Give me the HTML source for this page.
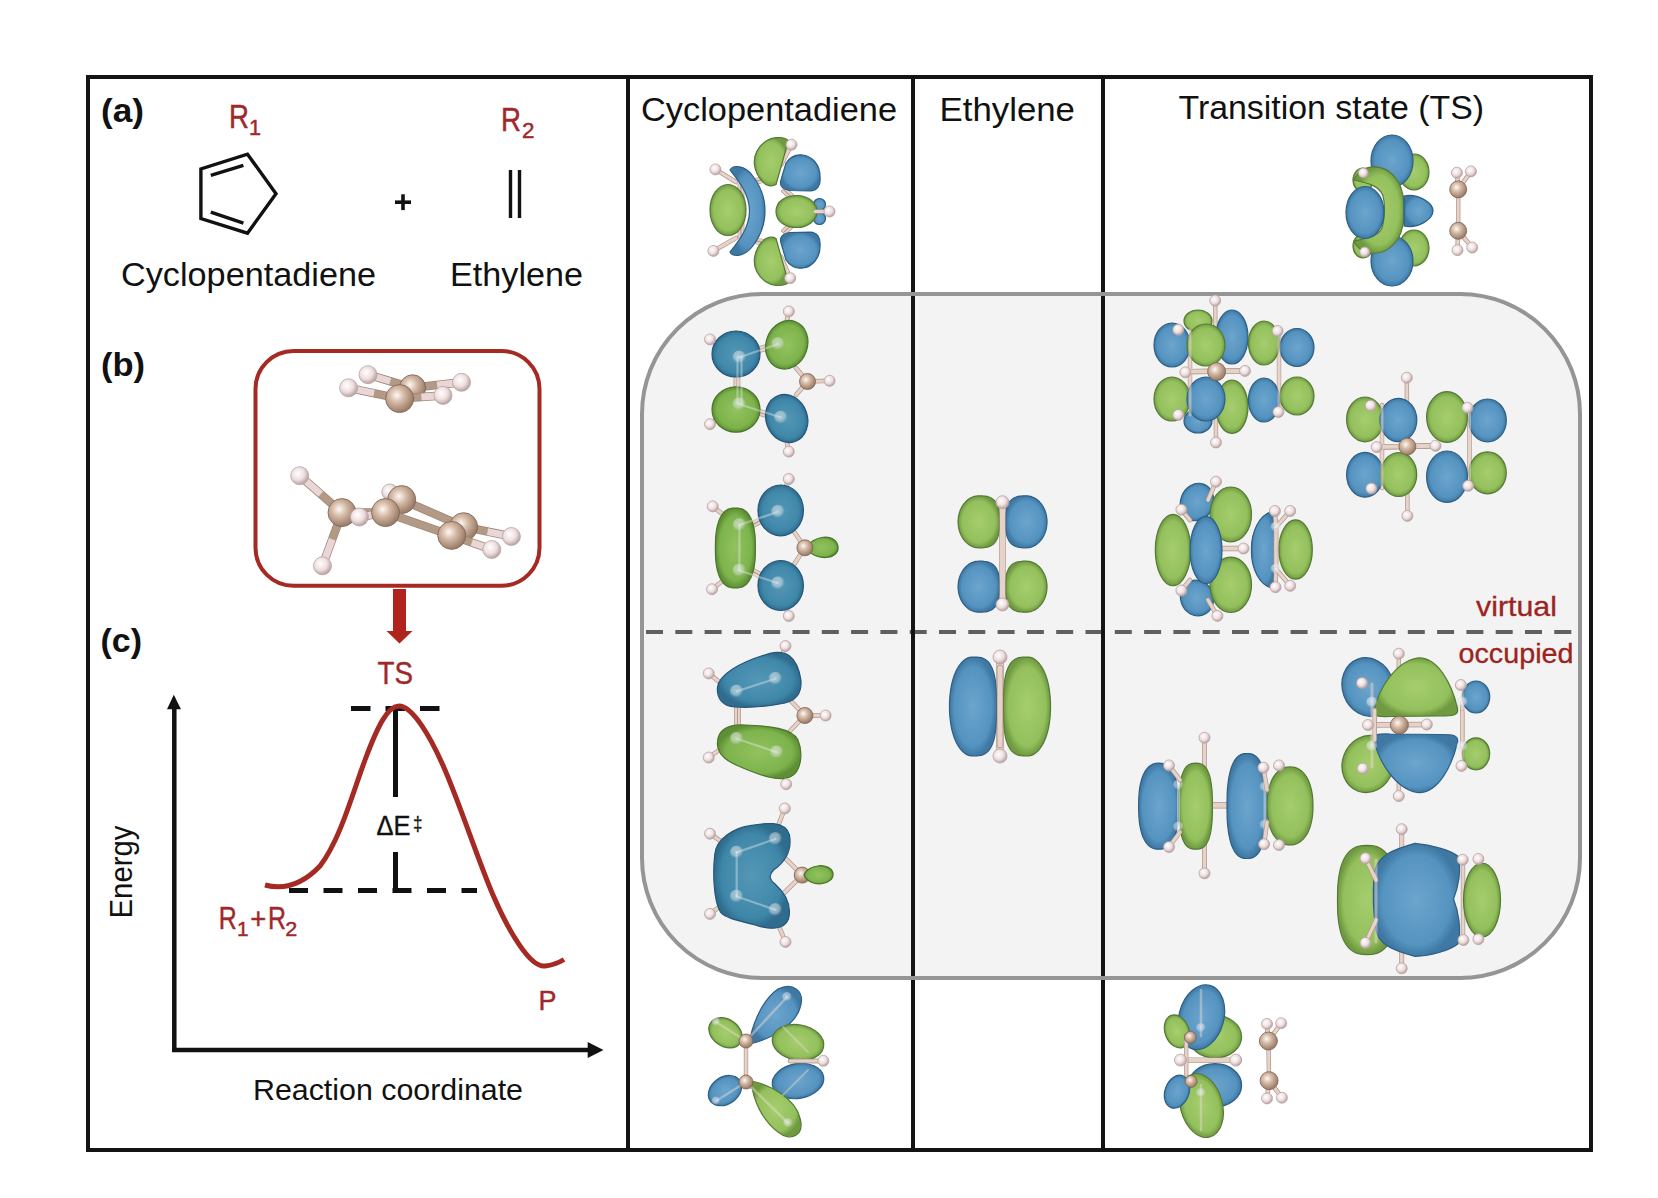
<!DOCTYPE html>
<html><head><meta charset="utf-8">
<style>
html,body{margin:0;padding:0;background:#fff;width:1658px;height:1198px;overflow:hidden}
svg{display:block}
text{font-family:"Liberation Sans",sans-serif}
</style></head>
<body>
<svg width="1658" height="1198" viewBox="0 0 1658 1198">
<defs>
<radialGradient id="gB" cx="50%" cy="50%" r="50%">
<stop offset="0" stop-color="#6ca5cd"/><stop offset="0.8" stop-color="#5593c0"/><stop offset="1" stop-color="#3f78a3"/>
</radialGradient>
<radialGradient id="gG" cx="50%" cy="50%" r="50%">
<stop offset="0" stop-color="#a6cd6e"/><stop offset="0.8" stop-color="#93c05c"/><stop offset="1" stop-color="#6f9a42"/>
</radialGradient>
<radialGradient id="gBt" cx="50%" cy="50%" r="50%">
<stop offset="0" stop-color="#5497b6"/><stop offset="0.8" stop-color="#3f87a9"/><stop offset="1" stop-color="#2f6c8e"/>
</radialGradient>
<radialGradient id="gGd" cx="50%" cy="50%" r="50%">
<stop offset="0" stop-color="#92c25e"/><stop offset="0.8" stop-color="#7db34c"/><stop offset="1" stop-color="#5e8f36"/>
</radialGradient>
<radialGradient id="gGhost" cx="45%" cy="40%" r="55%">
<stop offset="0" stop-color="#ffffff"/><stop offset="0.6" stop-color="#dfe6ea"/><stop offset="1" stop-color="#c0c8cc" stop-opacity="0"/>
</radialGradient>
<radialGradient id="gH" cx="40%" cy="38%" r="60%">
<stop offset="0" stop-color="#ffffff"/><stop offset="0.6" stop-color="#eedede"/><stop offset="1" stop-color="#bca6a6"/>
</radialGradient>
<radialGradient id="gC" cx="40%" cy="38%" r="60%">
<stop offset="0" stop-color="#fff8f2"/><stop offset="0.45" stop-color="#d3b8a4"/><stop offset="1" stop-color="#9c7e6a"/>
</radialGradient>
</defs>
<rect width="1658" height="1198" fill="#fff"/>

<!-- gray rounded region -->
<rect x="642" y="294" width="938" height="684" rx="120" ry="120" fill="#f3f3f3"/>
<!-- dashed divider -->
<line x1="646" y1="632" x2="1582" y2="632" stroke="#5f5f5f" stroke-width="4" stroke-dasharray="17 12.3"/>

<!-- frame -->
<g stroke="#141414" stroke-width="4" fill="none">
<rect x="88" y="77" width="1503" height="1073"/>
<line x1="628" y1="77" x2="628" y2="1150"/>
<line x1="913" y1="77" x2="913" y2="1150"/>
<line x1="1103" y1="77" x2="1103" y2="1150"/>
</g>

<!-- headers -->
<g fill="#111">
<text x="641" y="120.5" font-size="34" textLength="256" lengthAdjust="spacingAndGlyphs">Cyclopentadiene</text>
<text x="939.5" y="120.5" font-size="34" textLength="135.5" lengthAdjust="spacingAndGlyphs">Ethylene</text>
<text x="1178.5" y="119" font-size="34" textLength="305.5" lengthAdjust="spacingAndGlyphs">Transition state (TS)</text>
</g>

<!-- panel a -->
<g fill="#111">
<text x="101" y="122" font-size="34" font-weight="bold" textLength="43" lengthAdjust="spacingAndGlyphs">(a)</text>
<text x="101" y="376" font-size="34" font-weight="bold" textLength="44" lengthAdjust="spacingAndGlyphs">(b)</text>
<text x="100.5" y="652" font-size="34" font-weight="bold" textLength="41.5" lengthAdjust="spacingAndGlyphs">(c)</text>
<text x="121" y="286.3" font-size="33" textLength="255" lengthAdjust="spacingAndGlyphs">Cyclopentadiene</text>
<text x="450" y="286.3" font-size="33" textLength="133" lengthAdjust="spacingAndGlyphs">Ethylene</text>
</g>
<g fill="#a0282a" stroke="#a0282a" stroke-width="0.45">
<text x="229" y="127.6" font-size="33" textLength="20" lengthAdjust="spacingAndGlyphs">R</text>
<text x="249" y="134.9" font-size="21.5" textLength="12" lengthAdjust="spacingAndGlyphs">1</text>
<text x="501" y="130.7" font-size="33" textLength="20" lengthAdjust="spacingAndGlyphs">R</text>
<text x="522" y="138.2" font-size="21.5" textLength="12.5" lengthAdjust="spacingAndGlyphs">2</text>
</g>
<g stroke="#111" stroke-width="3.4" fill="none" stroke-linejoin="miter">
<polygon points="247.5,154.2 276,193.7 247.5,233.2 200.9,218.5 200.9,168.9"/>
<line x1="210.8" y1="175.4" x2="243.4" y2="165.3"/>
<line x1="210.8" y1="212.1" x2="243.4" y2="223.1"/>
<line x1="510.5" y1="170" x2="510.5" y2="218"/>
<line x1="519.5" y1="170" x2="519.5" y2="218"/>
<line x1="395" y1="202.2" x2="411" y2="202.2" stroke-width="3.6"/>
<line x1="403" y1="194.3" x2="403" y2="210.1" stroke-width="3.6"/>
</g>

<!-- panel b -->
<rect x="255.5" y="351" width="284" height="234.8" rx="38" ry="38" fill="none" stroke="#a52a23" stroke-width="4"/>
<line x1="412.6" y1="387.8" x2="368" y2="374.7" stroke="#9c8474" stroke-width="8.5"/>
<line x1="412.6" y1="387.8" x2="390.3" y2="381.25" stroke="#b39a86" stroke-width="7"/>
<line x1="390.3" y1="381.25" x2="368" y2="374.7" stroke="#ead6d6" stroke-width="7"/>
<line x1="412.6" y1="387.8" x2="461.5" y2="382.3" stroke="#9c8474" stroke-width="8.5"/>
<line x1="412.6" y1="387.8" x2="437.05" y2="385.05" stroke="#b39a86" stroke-width="7"/>
<line x1="437.05" y1="385.05" x2="461.5" y2="382.3" stroke="#ead6d6" stroke-width="7"/>
<circle cx="412.6" cy="387.8" r="13" fill="url(#gC)" stroke="#7a6050" stroke-width="0.8"/>
<circle cx="368" cy="374.7" r="9" fill="url(#gH)" stroke="#b9a3a3" stroke-width="0.8"/>
<circle cx="461.5" cy="382.3" r="9" fill="url(#gH)" stroke="#b9a3a3" stroke-width="0.8"/>
<line x1="399.6" y1="398.6" x2="348.6" y2="387.8" stroke="#9c8474" stroke-width="8.5"/>
<line x1="399.6" y1="398.6" x2="374.1" y2="393.20000000000005" stroke="#b39a86" stroke-width="7"/>
<line x1="374.1" y1="393.20000000000005" x2="348.6" y2="387.8" stroke="#ead6d6" stroke-width="7"/>
<line x1="399.6" y1="398.6" x2="443" y2="395.4" stroke="#9c8474" stroke-width="8.5"/>
<line x1="399.6" y1="398.6" x2="421.3" y2="397.0" stroke="#b39a86" stroke-width="7"/>
<line x1="421.3" y1="397.0" x2="443" y2="395.4" stroke="#ead6d6" stroke-width="7"/>
<circle cx="348.6" cy="387.8" r="9" fill="url(#gH)" stroke="#b9a3a3" stroke-width="0.8"/>
<circle cx="443" cy="395.4" r="9" fill="url(#gH)" stroke="#b9a3a3" stroke-width="0.8"/>
<circle cx="399.6" cy="398.6" r="14" fill="url(#gC)" stroke="#7a6050" stroke-width="0.8"/>
<circle cx="389.8" cy="492" r="8" fill="url(#gH)" stroke="#b9a3a3" stroke-width="0.8"/>
<line x1="401.7" y1="499.6" x2="463.6" y2="526.7" stroke="#9c8474" stroke-width="8.5"/>
<line x1="401.7" y1="499.6" x2="463.6" y2="526.7" stroke="#b39a86" stroke-width="7"/>
<line x1="463.6" y1="526.7" x2="511.4" y2="536.5" stroke="#9c8474" stroke-width="8.5"/>
<line x1="463.6" y1="526.7" x2="487.5" y2="531.6" stroke="#b39a86" stroke-width="7"/>
<line x1="487.5" y1="531.6" x2="511.4" y2="536.5" stroke="#ead6d6" stroke-width="7"/>
<circle cx="401.7" cy="499.6" r="14" fill="url(#gC)" stroke="#7a6050" stroke-width="0.8"/>
<circle cx="463.6" cy="526.7" r="14" fill="url(#gC)" stroke="#7a6050" stroke-width="0.8"/>
<circle cx="511.4" cy="536.5" r="9" fill="url(#gH)" stroke="#b9a3a3" stroke-width="0.8"/>
<line x1="342" y1="512.6" x2="299.7" y2="475.7" stroke="#9c8474" stroke-width="8.5"/>
<line x1="342" y1="512.6" x2="320.85" y2="494.15" stroke="#b39a86" stroke-width="7"/>
<line x1="320.85" y1="494.15" x2="299.7" y2="475.7" stroke="#ead6d6" stroke-width="7"/>
<line x1="342" y1="512.6" x2="322.5" y2="565.8" stroke="#9c8474" stroke-width="8.5"/>
<line x1="342" y1="512.6" x2="332.25" y2="539.2" stroke="#b39a86" stroke-width="7"/>
<line x1="332.25" y1="539.2" x2="322.5" y2="565.8" stroke="#ead6d6" stroke-width="7"/>
<line x1="342" y1="512.6" x2="385.5" y2="512.6" stroke="#9c8474" stroke-width="8.5"/>
<line x1="342" y1="512.6" x2="385.5" y2="512.6" stroke="#b39a86" stroke-width="7"/>
<line x1="385.5" y1="512.6" x2="451.7" y2="535.4" stroke="#9c8474" stroke-width="8.5"/>
<line x1="385.5" y1="512.6" x2="451.7" y2="535.4" stroke="#b39a86" stroke-width="7"/>
<line x1="451.7" y1="535.4" x2="491.8" y2="549.5" stroke="#9c8474" stroke-width="8.5"/>
<line x1="451.7" y1="535.4" x2="471.75" y2="542.45" stroke="#b39a86" stroke-width="7"/>
<line x1="471.75" y1="542.45" x2="491.8" y2="549.5" stroke="#ead6d6" stroke-width="7"/>
<circle cx="342" cy="512.6" r="14" fill="url(#gC)" stroke="#7a6050" stroke-width="0.8"/>
<line x1="385.5" y1="512.6" x2="359.4" y2="517" stroke="#9c8474" stroke-width="8.5"/>
<line x1="385.5" y1="512.6" x2="372.45" y2="514.8" stroke="#b39a86" stroke-width="7"/>
<line x1="372.45" y1="514.8" x2="359.4" y2="517" stroke="#ead6d6" stroke-width="7"/>
<circle cx="299.7" cy="475.7" r="9" fill="url(#gH)" stroke="#b9a3a3" stroke-width="0.8"/>
<circle cx="322.5" cy="565.8" r="9" fill="url(#gH)" stroke="#b9a3a3" stroke-width="0.8"/>
<circle cx="359.4" cy="517" r="9" fill="url(#gH)" stroke="#b9a3a3" stroke-width="0.8"/>
<circle cx="385.5" cy="512.6" r="14" fill="url(#gC)" stroke="#7a6050" stroke-width="0.8"/>
<circle cx="451.7" cy="535.4" r="14" fill="url(#gC)" stroke="#7a6050" stroke-width="0.8"/>
<circle cx="491.8" cy="549.5" r="9" fill="url(#gH)" stroke="#b9a3a3" stroke-width="0.8"/>
<polygon points="393,589 406,589 406,631 412.5,631 399.5,643.5 386.5,631 393,631" fill="#b0241d"/>

<!-- panel c -->
<text x="377.5" y="683.5" font-size="30.5" fill="#a0282a" stroke="#a0282a" stroke-width="0.4" textLength="35.5" lengthAdjust="spacingAndGlyphs">TS</text>
<g stroke="#111" fill="none">
<line x1="174.3" y1="707" x2="174.3" y2="1052" stroke-width="4.5"/>
<line x1="172" y1="1050" x2="590" y2="1050" stroke-width="4.5"/>
<line x1="351" y1="708.5" x2="440" y2="708.5" stroke-width="4.8" stroke-dasharray="19.5 15"/>
<line x1="289" y1="890.5" x2="477" y2="890.5" stroke-width="4.8" stroke-dasharray="19 15.5"/>
<line x1="395.5" y1="708" x2="395.5" y2="797" stroke-width="5"/>
<line x1="395.5" y1="852" x2="395.5" y2="888" stroke-width="5"/>
</g>
<polygon points="173.8,694.8 181,709.3 167,709.3" fill="#111"/>
<polygon points="603.5,1050 587.7,1042 587.7,1058" fill="#111"/>
<path d="M265,885 C280,889 300,887 320,866 C340,840 352,795 365,760 C378,725 388,706 399,706 C412,706 430,735 445,770 C462,810 478,860 493,895 C508,930 530,968 545,966 C555,965 560,962 564,959.5" fill="none" stroke="#a52a23" stroke-width="5"/>
<text x="376.5" y="835" font-size="27.5" fill="#111" stroke="#111" stroke-width="0.35" textLength="34" lengthAdjust="spacingAndGlyphs">ΔE</text>
<text x="413" y="831" font-size="19.5" fill="#111" stroke="#111" stroke-width="0.3" textLength="9.5" lengthAdjust="spacingAndGlyphs">‡</text>
<text x="538.5" y="1010" font-size="28.5" fill="#a0282a" stroke="#a0282a" stroke-width="0.45" textLength="18" lengthAdjust="spacingAndGlyphs">P</text>
<g fill="#a0282a" stroke="#a0282a" stroke-width="0.45">
<text x="218.8" y="928.8" font-size="30.5" textLength="18" lengthAdjust="spacingAndGlyphs">R</text>
<text x="237" y="935.5" font-size="20" textLength="11.5" lengthAdjust="spacingAndGlyphs">1</text>
<text x="250.2" y="928.8" font-size="30" textLength="16" lengthAdjust="spacingAndGlyphs">+</text>
<text x="268" y="928.8" font-size="30.5" textLength="18" lengthAdjust="spacingAndGlyphs">R</text>
<text x="285.2" y="935.5" font-size="20" textLength="12" lengthAdjust="spacingAndGlyphs">2</text>
</g>
<text transform="translate(132.4,918.5) rotate(-90)" font-size="31" fill="#111" textLength="93" lengthAdjust="spacingAndGlyphs">Energy</text>
<text x="253" y="1100" font-size="30" fill="#111" textLength="270" lengthAdjust="spacingAndGlyphs">Reaction coordinate</text>

<!-- virtual/occupied -->
<text x="1476" y="615.6" font-size="28" fill="#9b2421" stroke="#9b2421" stroke-width="0.3" textLength="81" lengthAdjust="spacingAndGlyphs">virtual</text>
<text x="1458.5" y="663.2" font-size="28" fill="#9b2421" stroke="#9b2421" stroke-width="0.3" textLength="115" lengthAdjust="spacingAndGlyphs">occupied</text>

<rect x="642" y="294" width="938" height="684" rx="120" ry="120" fill="none" stroke="#959595" stroke-width="4"/>
<line x1="715.4" y1="169.4" x2="736" y2="182" stroke="#b0968a" stroke-width="4.6" stroke-linecap="round"/>
<line x1="715.4" y1="169.4" x2="736" y2="182" stroke="#e6d2c8" stroke-width="3.2" stroke-linecap="round"/>
<line x1="713.4" y1="250.9" x2="736" y2="238" stroke="#b0968a" stroke-width="4.6" stroke-linecap="round"/>
<line x1="713.4" y1="250.9" x2="736" y2="238" stroke="#e6d2c8" stroke-width="3.2" stroke-linecap="round"/>
<line x1="791.5" y1="144.7" x2="781" y2="165" stroke="#b0968a" stroke-width="4.6" stroke-linecap="round"/>
<line x1="791.5" y1="144.7" x2="781" y2="165" stroke="#e6d2c8" stroke-width="3.2" stroke-linecap="round"/>
<line x1="790.2" y1="278.2" x2="781" y2="257" stroke="#b0968a" stroke-width="4.6" stroke-linecap="round"/>
<line x1="790.2" y1="278.2" x2="781" y2="257" stroke="#e6d2c8" stroke-width="3.2" stroke-linecap="round"/>
<line x1="739.4" y1="185.0" x2="739.4" y2="237.0" stroke="#b0968a" stroke-width="3.6" stroke-linecap="round"/>
<line x1="739.4" y1="185.0" x2="739.4" y2="237.0" stroke="#e6d2c8" stroke-width="2.2" stroke-linecap="round"/>
<line x1="742.6" y1="185.0" x2="742.6" y2="237.0" stroke="#b0968a" stroke-width="3.6" stroke-linecap="round"/>
<line x1="742.6" y1="185.0" x2="742.6" y2="237.0" stroke="#e6d2c8" stroke-width="2.2" stroke-linecap="round"/>
<line x1="748.3545937657424" y1="184.56021256926633" x2="770.3545937657424" y2="179.56021256926633" stroke="#b0968a" stroke-width="3.6" stroke-linecap="round"/>
<line x1="748.3545937657424" y1="184.56021256926633" x2="770.3545937657424" y2="179.56021256926633" stroke="#e6d2c8" stroke-width="2.2" stroke-linecap="round"/>
<line x1="747.6454062342576" y1="181.43978743073367" x2="769.6454062342576" y2="176.43978743073367" stroke="#b0968a" stroke-width="3.6" stroke-linecap="round"/>
<line x1="747.6454062342576" y1="181.43978743073367" x2="769.6454062342576" y2="176.43978743073367" stroke="#e6d2c8" stroke-width="2.2" stroke-linecap="round"/>
<line x1="747.6454062342576" y1="240.56021256926633" x2="769.6454062342576" y2="245.56021256926633" stroke="#b0968a" stroke-width="3.6" stroke-linecap="round"/>
<line x1="747.6454062342576" y1="240.56021256926633" x2="769.6454062342576" y2="245.56021256926633" stroke="#e6d2c8" stroke-width="2.2" stroke-linecap="round"/>
<line x1="748.3545937657424" y1="237.43978743073367" x2="770.3545937657424" y2="242.43978743073367" stroke="#b0968a" stroke-width="3.6" stroke-linecap="round"/>
<line x1="748.3545937657424" y1="237.43978743073367" x2="770.3545937657424" y2="242.43978743073367" stroke="#e6d2c8" stroke-width="2.2" stroke-linecap="round"/>
<line x1="782.9056941937898" y1="191.16725952662415" x2="798.9056941937898" y2="206.16725952662415" stroke="#b0968a" stroke-width="3.6" stroke-linecap="round"/>
<line x1="782.9056941937898" y1="191.16725952662415" x2="798.9056941937898" y2="206.16725952662415" stroke="#e6d2c8" stroke-width="2.2" stroke-linecap="round"/>
<line x1="785.0943058062102" y1="188.83274047337585" x2="801.0943058062102" y2="203.83274047337585" stroke="#b0968a" stroke-width="3.6" stroke-linecap="round"/>
<line x1="785.0943058062102" y1="188.83274047337585" x2="801.0943058062102" y2="203.83274047337585" stroke="#e6d2c8" stroke-width="2.2" stroke-linecap="round"/>
<line x1="785.0943058062102" y1="233.16725952662415" x2="801.0943058062102" y2="218.16725952662415" stroke="#b0968a" stroke-width="3.6" stroke-linecap="round"/>
<line x1="785.0943058062102" y1="233.16725952662415" x2="801.0943058062102" y2="218.16725952662415" stroke="#e6d2c8" stroke-width="2.2" stroke-linecap="round"/>
<line x1="782.9056941937898" y1="230.83274047337585" x2="798.9056941937898" y2="215.83274047337585" stroke="#b0968a" stroke-width="3.6" stroke-linecap="round"/>
<line x1="782.9056941937898" y1="230.83274047337585" x2="798.9056941937898" y2="215.83274047337585" stroke="#e6d2c8" stroke-width="2.2" stroke-linecap="round"/>
<ellipse cx="728" cy="210" rx="18" ry="25.5" fill="url(#gG)" stroke="#557a33" stroke-width="1.2"/>
<path d="M730,170 C733,164 745,166 752,175 C760,185 765,198 765,211 C765,224 760,237 752,247 C745,256 733,258 730,252 C738,242 749.5,228 749.5,211 C749.5,194 738,180 730,170 Z" fill="url(#gB)" stroke="#2c5f86" stroke-width="1.2"/>
<path d="M776,137.6 C783,137 789,139 788,142 L776,184.5 C772,187 766,186 762,181 C754,172 752,160 757,151 C762,142 770,138 776,137.6 Z" fill="url(#gG)" stroke="#557a33" stroke-width="1.2"/>
<path d="M786,163 C790,157 796,154 803,155 C812,156 820,165 820,176 C821,186 817,190.5 810,190.8 L790,190.5 C783,189.5 779,186 781,180 Z" fill="url(#gB)" stroke="#2c5f86" stroke-width="1.2"/>
<ellipse cx="819.5" cy="204.5" rx="6" ry="6" fill="url(#gB)" stroke="#2c5f86" stroke-width="1.2"/>
<ellipse cx="819.5" cy="218.5" rx="6" ry="6" fill="url(#gB)" stroke="#2c5f86" stroke-width="1.2"/>
<path d="M776,211.5 C776,201 786,195.5 797,195.5 C808,195.5 817,203 817,211.5 C817,220 808,227.5 797,227.5 C786,227.5 776,222 776,211.5 Z" fill="url(#gG)" stroke="#557a33" stroke-width="1.2"/>
<path d="M786,260 C790,266 796,269 803,268 C812,267 820,258 820,247 C821,237 817,232.5 810,232.2 L790,232.5 C783,233.5 779,237 781,243 Z" fill="url(#gB)" stroke="#2c5f86" stroke-width="1.2"/>
<path d="M776,285.4 C783,286 789,284 788,281 L776,238.5 C772,236 766,237 762,242 C754,251 752,263 757,272 C762,281 770,285 776,285.4 Z" fill="url(#gG)" stroke="#557a33" stroke-width="1.2"/>
<line x1="815" y1="211.5" x2="829.5" y2="211.5" stroke="#b0968a" stroke-width="4.6" stroke-linecap="round"/>
<line x1="815" y1="211.5" x2="829.5" y2="211.5" stroke="#e6d2c8" stroke-width="3.2" stroke-linecap="round"/>
<circle cx="791.5" cy="144.7" r="5.5" fill="url(#gH)" stroke="#b9a3a3" stroke-width="0.8"/>
<circle cx="715.4" cy="169.4" r="5.5" fill="url(#gH)" stroke="#b9a3a3" stroke-width="0.8"/>
<circle cx="713.4" cy="250.9" r="5.5" fill="url(#gH)" stroke="#b9a3a3" stroke-width="0.8"/>
<circle cx="790.2" cy="278.2" r="5.5" fill="url(#gH)" stroke="#b9a3a3" stroke-width="0.8"/>
<circle cx="829.5" cy="211.5" r="5.5" fill="url(#gH)" stroke="#b9a3a3" stroke-width="0.8"/>
<ellipse cx="1414" cy="172" rx="15" ry="18" fill="url(#gG)" stroke="#557a33" stroke-width="1.2"/>
<ellipse cx="1414" cy="248" rx="15" ry="18" fill="url(#gG)" stroke="#557a33" stroke-width="1.2"/>
<ellipse cx="1392" cy="161" rx="21" ry="26" fill="url(#gB)" stroke="#2c5f86" stroke-width="1.2"/>
<ellipse cx="1392" cy="261" rx="21" ry="25" fill="url(#gB)" stroke="#2c5f86" stroke-width="1.2"/>
<ellipse cx="1363" cy="180" rx="10" ry="12" fill="url(#gG)" stroke="#557a33" stroke-width="1.2"/>
<ellipse cx="1363" cy="246" rx="10" ry="12" fill="url(#gG)" stroke="#557a33" stroke-width="1.2"/>
<path d="M1354,180 C1360,164 1385,160 1399,183 C1406,197 1406,223 1399,237 C1385,260 1360,256 1354,241 C1368,238 1382,236 1383,224 C1385,215 1385,203 1383,196 C1380,186 1368,183 1354,180 Z" fill="url(#gG)" stroke="#557a33" stroke-width="1.2"/>
<path d="M1404,196 C1418,193 1433,203 1433,211 C1433,219 1418,229 1404,226 Z" fill="url(#gB)" stroke="#2c5f86" stroke-width="1.2"/>
<ellipse cx="1365" cy="212.5" rx="19" ry="26" fill="url(#gB)" stroke="#2c5f86" stroke-width="1.2"/>
<circle cx="1363.4" cy="173" r="5" fill="url(#gH)" stroke="#b9a3a3" stroke-width="0.8"/>
<circle cx="1364.7" cy="252" r="5" fill="url(#gH)" stroke="#b9a3a3" stroke-width="0.8"/>
<line x1="1458.2" y1="189.4" x2="1458.2" y2="230.8" stroke="#b0968a" stroke-width="4.4" stroke-linecap="round"/>
<line x1="1458.2" y1="189.4" x2="1458.2" y2="230.8" stroke="#e6d2c8" stroke-width="3" stroke-linecap="round"/>
<line x1="1458.2" y1="189.4" x2="1456.9" y2="172.7" stroke="#b0968a" stroke-width="4.6" stroke-linecap="round"/>
<line x1="1458.2" y1="189.4" x2="1456.9" y2="172.7" stroke="#e6d2c8" stroke-width="3.2" stroke-linecap="round"/>
<line x1="1458.2" y1="189.4" x2="1470.9" y2="171.4" stroke="#b0968a" stroke-width="4.6" stroke-linecap="round"/>
<line x1="1458.2" y1="189.4" x2="1470.9" y2="171.4" stroke="#e6d2c8" stroke-width="3.2" stroke-linecap="round"/>
<line x1="1458.2" y1="230.8" x2="1457.5" y2="250.2" stroke="#b0968a" stroke-width="4.6" stroke-linecap="round"/>
<line x1="1458.2" y1="230.8" x2="1457.5" y2="250.2" stroke="#e6d2c8" stroke-width="3.2" stroke-linecap="round"/>
<line x1="1458.2" y1="230.8" x2="1472.2" y2="247.5" stroke="#b0968a" stroke-width="4.6" stroke-linecap="round"/>
<line x1="1458.2" y1="230.8" x2="1472.2" y2="247.5" stroke="#e6d2c8" stroke-width="3.2" stroke-linecap="round"/>
<circle cx="1456.9" cy="172.7" r="5.5" fill="url(#gH)" stroke="#b9a3a3" stroke-width="0.8"/>
<circle cx="1470.9" cy="171.4" r="5.5" fill="url(#gH)" stroke="#b9a3a3" stroke-width="0.8"/>
<circle cx="1457.5" cy="250.2" r="5.5" fill="url(#gH)" stroke="#b9a3a3" stroke-width="0.8"/>
<circle cx="1472.2" cy="247.5" r="5.5" fill="url(#gH)" stroke="#b9a3a3" stroke-width="0.8"/>
<circle cx="1458.2" cy="189.4" r="8.5" fill="url(#gC)" stroke="#7a6050" stroke-width="0.8"/>
<circle cx="1458.2" cy="230.8" r="8.5" fill="url(#gC)" stroke="#7a6050" stroke-width="0.8"/>
<line x1="807.5" y1="381.5" x2="829.6" y2="380.8" stroke="#b0968a" stroke-width="4.6" stroke-linecap="round"/>
<line x1="807.5" y1="381.5" x2="829.6" y2="380.8" stroke="#e6d2c8" stroke-width="3.2" stroke-linecap="round"/>
<line x1="807.5" y1="381.5" x2="796" y2="368" stroke="#b0968a" stroke-width="4.6" stroke-linecap="round"/>
<line x1="807.5" y1="381.5" x2="796" y2="368" stroke="#e6d2c8" stroke-width="3.2" stroke-linecap="round"/>
<line x1="807.5" y1="381.5" x2="796" y2="395" stroke="#b0968a" stroke-width="4.6" stroke-linecap="round"/>
<line x1="807.5" y1="381.5" x2="796" y2="395" stroke="#e6d2c8" stroke-width="3.2" stroke-linecap="round"/>
<line x1="735.4" y1="375.0" x2="735.4" y2="390.0" stroke="#b0968a" stroke-width="3.6" stroke-linecap="round"/>
<line x1="735.4" y1="375.0" x2="735.4" y2="390.0" stroke="#e6d2c8" stroke-width="2.2" stroke-linecap="round"/>
<line x1="738.6" y1="375.0" x2="738.6" y2="390.0" stroke="#b0968a" stroke-width="3.6" stroke-linecap="round"/>
<line x1="738.6" y1="375.0" x2="738.6" y2="390.0" stroke="#e6d2c8" stroke-width="2.2" stroke-linecap="round"/>
<line x1="758.4597566169061" y1="351.53252205635386" x2="768.4597566169061" y2="348.53252205635386" stroke="#b0968a" stroke-width="3.6" stroke-linecap="round"/>
<line x1="758.4597566169061" y1="351.53252205635386" x2="768.4597566169061" y2="348.53252205635386" stroke="#e6d2c8" stroke-width="2.2" stroke-linecap="round"/>
<line x1="757.5402433830939" y1="348.46747794364614" x2="767.5402433830939" y2="345.46747794364614" stroke="#b0968a" stroke-width="3.6" stroke-linecap="round"/>
<line x1="757.5402433830939" y1="348.46747794364614" x2="767.5402433830939" y2="345.46747794364614" stroke="#e6d2c8" stroke-width="2.2" stroke-linecap="round"/>
<line x1="757.5402433830939" y1="413.53252205635386" x2="767.5402433830939" y2="416.53252205635386" stroke="#b0968a" stroke-width="3.6" stroke-linecap="round"/>
<line x1="757.5402433830939" y1="413.53252205635386" x2="767.5402433830939" y2="416.53252205635386" stroke="#e6d2c8" stroke-width="2.2" stroke-linecap="round"/>
<line x1="758.4597566169061" y1="410.46747794364614" x2="768.4597566169061" y2="413.46747794364614" stroke="#b0968a" stroke-width="3.6" stroke-linecap="round"/>
<line x1="758.4597566169061" y1="410.46747794364614" x2="768.4597566169061" y2="413.46747794364614" stroke="#e6d2c8" stroke-width="2.2" stroke-linecap="round"/>
<line x1="788.8" y1="311.4" x2="786" y2="325" stroke="#b0968a" stroke-width="4.6" stroke-linecap="round"/>
<line x1="788.8" y1="311.4" x2="786" y2="325" stroke="#e6d2c8" stroke-width="3.2" stroke-linecap="round"/>
<line x1="710" y1="339.4" x2="720" y2="345" stroke="#b0968a" stroke-width="4.6" stroke-linecap="round"/>
<line x1="710" y1="339.4" x2="720" y2="345" stroke="#e6d2c8" stroke-width="3.2" stroke-linecap="round"/>
<line x1="710" y1="424.2" x2="720" y2="418" stroke="#b0968a" stroke-width="4.6" stroke-linecap="round"/>
<line x1="710" y1="424.2" x2="720" y2="418" stroke="#e6d2c8" stroke-width="3.2" stroke-linecap="round"/>
<line x1="788.8" y1="451.6" x2="786" y2="438" stroke="#b0968a" stroke-width="4.6" stroke-linecap="round"/>
<line x1="788.8" y1="451.6" x2="786" y2="438" stroke="#e6d2c8" stroke-width="3.2" stroke-linecap="round"/>
<ellipse cx="736" cy="354" rx="24" ry="23" fill="url(#gBt)" stroke="#22557a" stroke-width="1.2"/>
<ellipse cx="786.7" cy="344.7" rx="20.7" ry="24.7" fill="url(#gGd)" stroke="#4a7628" stroke-width="1.2" transform="rotate(20 786.7 344.7)"/>
<ellipse cx="736" cy="409.5" rx="24" ry="22.7" fill="url(#gGd)" stroke="#4a7628" stroke-width="1.2"/>
<ellipse cx="786.7" cy="418.5" rx="20.7" ry="24.5" fill="url(#gBt)" stroke="#22557a" stroke-width="1.2" transform="rotate(-20 786.7 418.5)"/>
<circle cx="807.5" cy="381.5" r="8" fill="url(#gC)" stroke="#7a6050" stroke-width="0.8"/>
<circle cx="829.6" cy="380.8" r="5.5" fill="url(#gH)" stroke="#b9a3a3" stroke-width="0.8"/>
<circle cx="788.8" cy="311.4" r="5.5" fill="url(#gH)" stroke="#b9a3a3" stroke-width="0.8"/>
<circle cx="710" cy="339.4" r="5.5" fill="url(#gH)" stroke="#b9a3a3" stroke-width="0.8"/>
<circle cx="710" cy="424.2" r="5.5" fill="url(#gH)" stroke="#b9a3a3" stroke-width="0.8"/>
<circle cx="788.8" cy="451.6" r="5.5" fill="url(#gH)" stroke="#b9a3a3" stroke-width="0.8"/>
<line x1="739.4" y1="357.4" x2="778.1" y2="344" stroke="#e8eef0" stroke-width="2.2" opacity="0.4" stroke-linecap="round"/>
<line x1="739.4" y1="404.2" x2="780.8" y2="417.5" stroke="#e8eef0" stroke-width="2.2" opacity="0.4" stroke-linecap="round"/>
<line x1="737.5" y1="357" x2="737.5" y2="404" stroke="#e8eef0" stroke-width="2.2" opacity="0.4" stroke-linecap="round"/>
<line x1="741.5" y1="357" x2="741.5" y2="404" stroke="#e8eef0" stroke-width="2.2" opacity="0.4" stroke-linecap="round"/>
<circle cx="739.4" cy="357.4" r="7" fill="url(#gGhost)" opacity="0.5"/>
<circle cx="778.1" cy="344" r="7" fill="url(#gGhost)" opacity="0.5"/>
<circle cx="739.4" cy="404.2" r="7" fill="url(#gGhost)" opacity="0.5"/>
<circle cx="780.8" cy="417.5" r="7" fill="url(#gGhost)" opacity="0.5"/>
<ellipse cx="1198" cy="321" rx="14" ry="11" fill="url(#gG)" stroke="#557a33" stroke-width="1.2"/>
<ellipse cx="1198" cy="421" rx="14" ry="12" fill="url(#gB)" stroke="#2c5f86" stroke-width="1.2"/>
<line x1="1215.2" y1="300.6" x2="1216" y2="442.5" stroke="#b0968a" stroke-width="4.4" stroke-linecap="round"/>
<line x1="1215.2" y1="300.6" x2="1216" y2="442.5" stroke="#e6d2c8" stroke-width="3" stroke-linecap="round"/>
<line x1="1189.7" y1="371.6" x2="1245" y2="370.9" stroke="#b0968a" stroke-width="5.4" stroke-linecap="round"/>
<line x1="1189.7" y1="371.6" x2="1245" y2="370.9" stroke="#e6d2c8" stroke-width="4" stroke-linecap="round"/>
<line x1="1279" y1="331" x2="1279" y2="412" stroke="#b0968a" stroke-width="4.4" stroke-linecap="round"/>
<line x1="1279" y1="331" x2="1279" y2="412" stroke="#e6d2c8" stroke-width="3" stroke-linecap="round"/>
<line x1="1190" y1="345" x2="1190" y2="399" stroke="#b0968a" stroke-width="4.4" stroke-linecap="round"/>
<line x1="1190" y1="345" x2="1190" y2="399" stroke="#e6d2c8" stroke-width="3" stroke-linecap="round"/>
<ellipse cx="1172" cy="345" rx="18" ry="22" fill="url(#gB)" stroke="#2c5f86" stroke-width="1.2"/>
<ellipse cx="1172" cy="399" rx="18" ry="22" fill="url(#gG)" stroke="#557a33" stroke-width="1.2"/>
<ellipse cx="1232" cy="337" rx="16" ry="27" fill="url(#gB)" stroke="#2c5f86" stroke-width="1.2"/>
<ellipse cx="1232" cy="406.7" rx="16" ry="26.7" fill="url(#gG)" stroke="#557a33" stroke-width="1.2"/>
<ellipse cx="1206" cy="345" rx="19" ry="21" fill="url(#gG)" stroke="#557a33" stroke-width="1.2"/>
<ellipse cx="1206" cy="399" rx="19" ry="22" fill="url(#gB)" stroke="#2c5f86" stroke-width="1.2"/>
<ellipse cx="1264" cy="343" rx="15.6" ry="22" fill="url(#gG)" stroke="#557a33" stroke-width="1.2"/>
<ellipse cx="1264" cy="400" rx="15.6" ry="22" fill="url(#gB)" stroke="#2c5f86" stroke-width="1.2"/>
<ellipse cx="1297" cy="347.5" rx="17" ry="19" fill="url(#gB)" stroke="#2c5f86" stroke-width="1.2"/>
<ellipse cx="1297" cy="396" rx="17" ry="19" fill="url(#gG)" stroke="#557a33" stroke-width="1.2"/>
<line x1="1189.7" y1="371.6" x2="1245" y2="370.9" stroke="#b0968a" stroke-width="5.4" stroke-linecap="round"/>
<line x1="1189.7" y1="371.6" x2="1245" y2="370.9" stroke="#e6d2c8" stroke-width="4" stroke-linecap="round"/>
<line x1="1190" y1="330" x2="1190" y2="415" stroke="#ead6cc" stroke-width="3" opacity="0.55" stroke-linecap="round"/>
<line x1="1279" y1="331" x2="1279" y2="412" stroke="#ead6cc" stroke-width="3" opacity="0.55" stroke-linecap="round"/>
<circle cx="1216.6" cy="371.6" r="9" fill="url(#gC)" stroke="#7a6050" stroke-width="0.8"/>
<circle cx="1245" cy="370.9" r="5.5" fill="url(#gH)" stroke="#b9a3a3" stroke-width="0.8"/>
<circle cx="1215.2" cy="300.6" r="5.5" fill="url(#gH)" stroke="#b9a3a3" stroke-width="0.8"/>
<circle cx="1216" cy="442.5" r="5.5" fill="url(#gH)" stroke="#b9a3a3" stroke-width="0.8"/>
<circle cx="1277.6" cy="331" r="5.5" fill="url(#gH)" stroke="#b9a3a3" stroke-width="0.8"/>
<circle cx="1278.4" cy="412" r="5.5" fill="url(#gH)" stroke="#b9a3a3" stroke-width="0.8"/>
<circle cx="1178.3" cy="329.7" r="5.5" fill="url(#gH)" stroke="#b9a3a3" stroke-width="0.8"/>
<circle cx="1178.3" cy="414.9" r="5.5" fill="url(#gH)" stroke="#b9a3a3" stroke-width="0.8"/>
<circle cx="1185.4" cy="372.3" r="5.5" fill="url(#gH)" stroke="#b9a3a3" stroke-width="0.8"/>
<line x1="1406.8" y1="377.7" x2="1407.4" y2="515.9" stroke="#b0968a" stroke-width="4.4" stroke-linecap="round"/>
<line x1="1406.8" y1="377.7" x2="1407.4" y2="515.9" stroke="#e6d2c8" stroke-width="3" stroke-linecap="round"/>
<line x1="1376.7" y1="447.1" x2="1435.5" y2="445.8" stroke="#b0968a" stroke-width="5.4" stroke-linecap="round"/>
<line x1="1376.7" y1="447.1" x2="1435.5" y2="445.8" stroke="#e6d2c8" stroke-width="4" stroke-linecap="round"/>
<line x1="1382" y1="405" x2="1382" y2="488" stroke="#b0968a" stroke-width="4.4" stroke-linecap="round"/>
<line x1="1382" y1="405" x2="1382" y2="488" stroke="#e6d2c8" stroke-width="3" stroke-linecap="round"/>
<line x1="1469.5" y1="407.7" x2="1469.5" y2="485.8" stroke="#b0968a" stroke-width="4.4" stroke-linecap="round"/>
<line x1="1469.5" y1="407.7" x2="1469.5" y2="485.8" stroke="#e6d2c8" stroke-width="3" stroke-linecap="round"/>
<ellipse cx="1365" cy="419.4" rx="18.4" ry="22.4" fill="url(#gG)" stroke="#557a33" stroke-width="1.2"/>
<ellipse cx="1365" cy="474.8" rx="18.4" ry="22.4" fill="url(#gB)" stroke="#2c5f86" stroke-width="1.2"/>
<ellipse cx="1398.4" cy="420" rx="18.4" ry="21.7" fill="url(#gB)" stroke="#2c5f86" stroke-width="1.2"/>
<ellipse cx="1398.7" cy="474.5" rx="18" ry="22" fill="url(#gG)" stroke="#557a33" stroke-width="1.2"/>
<ellipse cx="1447" cy="417" rx="20.4" ry="25.4" fill="url(#gG)" stroke="#557a33" stroke-width="1.2"/>
<ellipse cx="1447" cy="476.7" rx="20.4" ry="25.7" fill="url(#gB)" stroke="#2c5f86" stroke-width="1.2"/>
<ellipse cx="1487.6" cy="420.4" rx="18.7" ry="21.4" fill="url(#gB)" stroke="#2c5f86" stroke-width="1.2"/>
<ellipse cx="1487.6" cy="472.8" rx="18.7" ry="21" fill="url(#gG)" stroke="#557a33" stroke-width="1.2"/>
<line x1="1376.7" y1="447.1" x2="1435.5" y2="445.8" stroke="#b0968a" stroke-width="5.4" stroke-linecap="round"/>
<line x1="1376.7" y1="447.1" x2="1435.5" y2="445.8" stroke="#e6d2c8" stroke-width="4" stroke-linecap="round"/>
<line x1="1382" y1="405" x2="1382" y2="488" stroke="#ead6cc" stroke-width="3" opacity="0.55" stroke-linecap="round"/>
<line x1="1469.5" y1="407.7" x2="1469.5" y2="485.8" stroke="#ead6cc" stroke-width="3" opacity="0.55" stroke-linecap="round"/>
<circle cx="1407.4" cy="446.5" r="8.5" fill="url(#gC)" stroke="#7a6050" stroke-width="0.8"/>
<circle cx="1435.5" cy="445.8" r="5.5" fill="url(#gH)" stroke="#b9a3a3" stroke-width="0.8"/>
<circle cx="1376.7" cy="447.1" r="5.5" fill="url(#gH)" stroke="#b9a3a3" stroke-width="0.8"/>
<circle cx="1406.8" cy="377.7" r="5.5" fill="url(#gH)" stroke="#b9a3a3" stroke-width="0.8"/>
<circle cx="1407.4" cy="515.9" r="5.5" fill="url(#gH)" stroke="#b9a3a3" stroke-width="0.8"/>
<circle cx="1467.5" cy="407.7" r="5.5" fill="url(#gH)" stroke="#b9a3a3" stroke-width="0.8"/>
<circle cx="1468.2" cy="485.8" r="5.5" fill="url(#gH)" stroke="#b9a3a3" stroke-width="0.8"/>
<circle cx="1370.7" cy="405.7" r="5.5" fill="url(#gH)" stroke="#b9a3a3" stroke-width="0.8"/>
<circle cx="1371.4" cy="488.5" r="5.5" fill="url(#gH)" stroke="#b9a3a3" stroke-width="0.8"/>
<line x1="712.7" y1="506.4" x2="730" y2="520" stroke="#b0968a" stroke-width="4.6" stroke-linecap="round"/>
<line x1="712.7" y1="506.4" x2="730" y2="520" stroke="#e6d2c8" stroke-width="3.2" stroke-linecap="round"/>
<line x1="712" y1="589.2" x2="730" y2="575" stroke="#b0968a" stroke-width="4.6" stroke-linecap="round"/>
<line x1="712" y1="589.2" x2="730" y2="575" stroke="#e6d2c8" stroke-width="3.2" stroke-linecap="round"/>
<line x1="788.8" y1="479" x2="783" y2="495" stroke="#b0968a" stroke-width="4.6" stroke-linecap="round"/>
<line x1="788.8" y1="479" x2="783" y2="495" stroke="#e6d2c8" stroke-width="3.2" stroke-linecap="round"/>
<line x1="788.8" y1="616" x2="783" y2="600" stroke="#b0968a" stroke-width="4.6" stroke-linecap="round"/>
<line x1="788.8" y1="616" x2="783" y2="600" stroke="#e6d2c8" stroke-width="3.2" stroke-linecap="round"/>
<line x1="804.9" y1="547.8" x2="793" y2="530" stroke="#b0968a" stroke-width="4.6" stroke-linecap="round"/>
<line x1="804.9" y1="547.8" x2="793" y2="530" stroke="#e6d2c8" stroke-width="3.2" stroke-linecap="round"/>
<line x1="804.9" y1="547.8" x2="793" y2="566" stroke="#b0968a" stroke-width="4.6" stroke-linecap="round"/>
<line x1="804.9" y1="547.8" x2="793" y2="566" stroke="#e6d2c8" stroke-width="3.2" stroke-linecap="round"/>
<line x1="752.758559716856" y1="526.4087537598755" x2="765.758559716856" y2="519.4087537598755" stroke="#b0968a" stroke-width="3.6" stroke-linecap="round"/>
<line x1="752.758559716856" y1="526.4087537598755" x2="765.758559716856" y2="519.4087537598755" stroke="#e6d2c8" stroke-width="2.2" stroke-linecap="round"/>
<line x1="751.241440283144" y1="523.5912462401245" x2="764.241440283144" y2="516.5912462401245" stroke="#b0968a" stroke-width="3.6" stroke-linecap="round"/>
<line x1="751.241440283144" y1="523.5912462401245" x2="764.241440283144" y2="516.5912462401245" stroke="#e6d2c8" stroke-width="2.2" stroke-linecap="round"/>
<line x1="751.241440283144" y1="572.4087537598755" x2="764.241440283144" y2="579.4087537598755" stroke="#b0968a" stroke-width="3.6" stroke-linecap="round"/>
<line x1="751.241440283144" y1="572.4087537598755" x2="764.241440283144" y2="579.4087537598755" stroke="#e6d2c8" stroke-width="2.2" stroke-linecap="round"/>
<line x1="752.758559716856" y1="569.5912462401245" x2="765.758559716856" y2="576.5912462401245" stroke="#b0968a" stroke-width="3.6" stroke-linecap="round"/>
<line x1="752.758559716856" y1="569.5912462401245" x2="765.758559716856" y2="576.5912462401245" stroke="#e6d2c8" stroke-width="2.2" stroke-linecap="round"/>
<polygon points="755.4,548.0 755.3,553.7 755.2,557.9 754.9,561.6 754.4,565.0 753.9,568.1 753.2,571.0 752.4,573.6 751.6,576.1 750.6,578.3 749.4,580.3 748.2,582.1 746.9,583.7 745.4,585.0 743.9,586.1 742.2,586.9 740.3,587.5 738.2,587.9 735.4,588.0 732.6,587.9 730.5,587.5 728.6,586.9 726.9,586.1 725.4,585.0 723.9,583.7 722.6,582.1 721.4,580.3 720.2,578.3 719.2,576.1 718.4,573.6 717.6,571.0 716.9,568.1 716.4,565.0 715.9,561.6 715.6,557.9 715.5,553.7 715.4,548.0 715.5,542.3 715.6,538.1 715.9,534.4 716.4,531.0 716.9,527.9 717.6,525.0 718.4,522.4 719.2,519.9 720.2,517.7 721.4,515.7 722.6,513.9 723.9,512.3 725.4,511.0 726.9,509.9 728.6,509.1 730.5,508.5 732.6,508.1 735.4,508.0 738.2,508.1 740.3,508.5 742.2,509.1 743.9,509.9 745.4,511.0 746.9,512.3 748.2,513.9 749.4,515.7 750.6,517.7 751.6,519.9 752.4,522.4 753.2,525.0 753.9,527.9 754.4,531.0 754.9,534.4 755.2,538.1 755.3,542.3" fill="url(#gGd)" stroke="#4a7628" stroke-width="1.2" stroke-linejoin="round"/>
<ellipse cx="780.7" cy="510.4" rx="22.7" ry="25.4" fill="url(#gBt)" stroke="#22557a" stroke-width="1.2"/>
<ellipse cx="780.7" cy="585.5" rx="22.7" ry="25" fill="url(#gBt)" stroke="#22557a" stroke-width="1.2"/>
<path d="M806,548 C812,536 835,532 838,546 C840,560 815,562 806,548 Z" fill="url(#gGd)" stroke="#4a7628" stroke-width="1.2"/>
<circle cx="804.9" cy="547.8" r="8" fill="url(#gC)" stroke="#7a6050" stroke-width="0.8"/>
<circle cx="712.7" cy="506.4" r="5.5" fill="url(#gH)" stroke="#b9a3a3" stroke-width="0.8"/>
<circle cx="712" cy="589.2" r="5.5" fill="url(#gH)" stroke="#b9a3a3" stroke-width="0.8"/>
<circle cx="788.8" cy="479" r="5.5" fill="url(#gH)" stroke="#b9a3a3" stroke-width="0.8"/>
<circle cx="788.8" cy="616" r="5.5" fill="url(#gH)" stroke="#b9a3a3" stroke-width="0.8"/>
<line x1="739.4" y1="525" x2="739.4" y2="570.5" stroke="#e8eef0" stroke-width="2.2" opacity="0.4" stroke-linecap="round"/>
<line x1="739.4" y1="525" x2="778" y2="511.7" stroke="#e8eef0" stroke-width="2.2" opacity="0.4" stroke-linecap="round"/>
<line x1="739.4" y1="570.5" x2="778" y2="583.2" stroke="#e8eef0" stroke-width="2.2" opacity="0.4" stroke-linecap="round"/>
<circle cx="739.4" cy="525" r="7" fill="url(#gGhost)" opacity="0.5"/>
<circle cx="739.4" cy="570.5" r="7" fill="url(#gGhost)" opacity="0.5"/>
<circle cx="778" cy="511.7" r="7" fill="url(#gGhost)" opacity="0.5"/>
<circle cx="778" cy="583.2" r="7" fill="url(#gGhost)" opacity="0.5"/>
<polygon points="999.5,521.8 999.5,525.8 999.4,528.2 999.2,530.2 999.0,532.0 998.7,533.7 998.4,535.2 998.0,536.6 997.5,537.9 997.0,539.1 996.4,540.3 995.8,541.3 995.1,542.3 994.3,543.2 993.5,544.0 992.6,544.7 991.6,545.3 990.6,545.9 989.5,546.4 988.3,546.8 986.9,547.2 985.5,547.5 983.9,547.6 982.0,547.8 978.8,547.8 977.4,547.7 976.1,547.6 974.8,547.3 973.4,546.9 972.1,546.4 970.9,545.8 969.6,545.1 968.4,544.3 967.3,543.4 966.2,542.4 965.2,541.3 964.2,540.2 963.2,538.9 962.4,537.6 961.6,536.2 960.9,534.8 960.2,533.3 959.7,531.7 959.2,530.2 958.8,528.5 958.5,526.9 958.3,525.2 958.1,523.5 958.1,521.8 958.1,520.1 958.3,518.4 958.5,516.7 958.8,515.1 959.2,513.4 959.7,511.9 960.2,510.3 960.9,508.8 961.6,507.4 962.4,506.0 963.2,504.7 964.2,503.4 965.2,502.3 966.2,501.2 967.3,500.2 968.4,499.3 969.6,498.5 970.9,497.8 972.1,497.2 973.4,496.7 974.8,496.3 976.1,496.0 977.4,495.9 978.8,495.8 982.0,495.8 983.9,496.0 985.5,496.1 986.9,496.4 988.3,496.8 989.5,497.2 990.6,497.7 991.6,498.3 992.6,498.9 993.5,499.6 994.3,500.4 995.1,501.3 995.8,502.3 996.4,503.3 997.0,504.5 997.5,505.7 998.0,507.0 998.4,508.4 998.7,509.9 999.0,511.6 999.2,513.4 999.4,515.4 999.5,517.8" fill="url(#gG)" stroke="#557a33" stroke-width="1.2" stroke-linejoin="round"/>
<polygon points="1047.0,521.8 1047.0,523.5 1046.8,525.2 1046.6,526.9 1046.3,528.5 1045.9,530.2 1045.4,531.7 1044.9,533.3 1044.2,534.8 1043.5,536.2 1042.7,537.6 1041.9,538.9 1040.9,540.2 1039.9,541.3 1038.9,542.4 1037.8,543.4 1036.6,544.3 1035.5,545.1 1034.2,545.8 1033.0,546.4 1031.7,546.9 1030.3,547.3 1029.0,547.6 1027.7,547.7 1026.3,547.8 1023.1,547.8 1021.2,547.6 1019.6,547.5 1018.2,547.2 1016.8,546.8 1015.6,546.4 1014.5,545.9 1013.5,545.3 1012.5,544.7 1011.6,544.0 1010.8,543.2 1010.0,542.3 1009.3,541.3 1008.7,540.3 1008.1,539.1 1007.6,537.9 1007.1,536.6 1006.7,535.2 1006.4,533.7 1006.1,532.0 1005.9,530.2 1005.7,528.2 1005.6,525.8 1005.6,521.8 1005.6,517.8 1005.7,515.4 1005.9,513.4 1006.1,511.6 1006.4,509.9 1006.7,508.4 1007.1,507.0 1007.6,505.7 1008.1,504.5 1008.7,503.3 1009.3,502.3 1010.0,501.3 1010.8,500.4 1011.6,499.6 1012.5,498.9 1013.5,498.3 1014.5,497.7 1015.6,497.2 1016.8,496.8 1018.2,496.4 1019.6,496.1 1021.2,496.0 1023.1,495.8 1026.3,495.8 1027.7,495.9 1029.0,496.0 1030.3,496.3 1031.7,496.7 1033.0,497.2 1034.2,497.8 1035.5,498.5 1036.6,499.3 1037.8,500.2 1038.9,501.2 1039.9,502.3 1040.9,503.4 1041.9,504.7 1042.7,506.0 1043.5,507.4 1044.2,508.8 1044.9,510.3 1045.4,511.9 1045.9,513.4 1046.3,515.1 1046.6,516.7 1046.8,518.4 1047.0,520.1" fill="url(#gB)" stroke="#2c5f86" stroke-width="1.2" stroke-linejoin="round"/>
<polygon points="999.5,586.7 999.5,590.6 999.4,593.0 999.2,595.0 999.0,596.7 998.7,598.4 998.4,599.8 998.0,601.2 997.5,602.5 997.0,603.7 996.4,604.8 995.8,605.8 995.1,606.8 994.3,607.6 993.5,608.4 992.6,609.2 991.6,609.8 990.6,610.4 989.5,610.8 988.3,611.3 986.9,611.6 985.5,611.9 983.9,612.0 982.0,612.2 978.8,612.2 977.4,612.1 976.1,612.0 974.8,611.7 973.4,611.3 972.1,610.8 970.9,610.3 969.6,609.6 968.4,608.8 967.3,607.9 966.2,606.9 965.2,605.9 964.2,604.7 963.2,603.5 962.4,602.2 961.6,600.9 960.9,599.5 960.2,598.0 959.7,596.5 959.2,594.9 958.8,593.3 958.5,591.7 958.3,590.0 958.1,588.4 958.1,586.7 958.1,585.0 958.3,583.4 958.5,581.7 958.8,580.1 959.2,578.5 959.7,576.9 960.2,575.4 960.9,574.0 961.6,572.5 962.4,571.2 963.2,569.9 964.2,568.7 965.2,567.5 966.2,566.5 967.3,565.5 968.4,564.6 969.6,563.8 970.9,563.1 972.1,562.6 973.4,562.1 974.8,561.7 976.1,561.4 977.4,561.3 978.8,561.2 982.0,561.2 983.9,561.4 985.5,561.5 986.9,561.8 988.3,562.1 989.5,562.6 990.6,563.0 991.6,563.6 992.6,564.2 993.5,565.0 994.3,565.8 995.1,566.6 995.8,567.6 996.4,568.6 997.0,569.7 997.5,570.9 998.0,572.2 998.4,573.6 998.7,575.0 999.0,576.7 999.2,578.4 999.4,580.4 999.5,582.8" fill="url(#gB)" stroke="#2c5f86" stroke-width="1.2" stroke-linejoin="round"/>
<polygon points="1047.0,586.7 1047.0,588.4 1046.8,590.0 1046.6,591.7 1046.3,593.3 1045.9,594.9 1045.4,596.5 1044.9,598.0 1044.2,599.5 1043.5,600.9 1042.7,602.2 1041.9,603.5 1040.9,604.7 1039.9,605.9 1038.9,606.9 1037.8,607.9 1036.6,608.8 1035.5,609.6 1034.2,610.3 1033.0,610.8 1031.7,611.3 1030.3,611.7 1029.0,612.0 1027.7,612.1 1026.3,612.2 1023.1,612.2 1021.2,612.0 1019.6,611.9 1018.2,611.6 1016.8,611.3 1015.6,610.8 1014.5,610.4 1013.5,609.8 1012.5,609.2 1011.6,608.4 1010.8,607.6 1010.0,606.8 1009.3,605.8 1008.7,604.8 1008.1,603.7 1007.6,602.5 1007.1,601.2 1006.7,599.8 1006.4,598.4 1006.1,596.7 1005.9,595.0 1005.7,593.0 1005.6,590.6 1005.6,586.7 1005.6,582.8 1005.7,580.4 1005.9,578.4 1006.1,576.7 1006.4,575.0 1006.7,573.6 1007.1,572.2 1007.6,570.9 1008.1,569.7 1008.7,568.6 1009.3,567.6 1010.0,566.6 1010.8,565.8 1011.6,565.0 1012.5,564.2 1013.5,563.6 1014.5,563.0 1015.6,562.6 1016.8,562.1 1018.2,561.8 1019.6,561.5 1021.2,561.4 1023.1,561.2 1026.3,561.2 1027.7,561.3 1029.0,561.4 1030.3,561.7 1031.7,562.1 1033.0,562.6 1034.2,563.1 1035.5,563.8 1036.6,564.6 1037.8,565.5 1038.9,566.5 1039.9,567.5 1040.9,568.7 1041.9,569.9 1042.7,571.2 1043.5,572.5 1044.2,574.0 1044.9,575.4 1045.4,576.9 1045.9,578.5 1046.3,580.1 1046.6,581.7 1046.8,583.4 1047.0,585.0" fill="url(#gG)" stroke="#557a33" stroke-width="1.2" stroke-linejoin="round"/>
<line x1="1002.5" y1="502" x2="1002.5" y2="605" stroke="#b0968a" stroke-width="6.4" stroke-linecap="round"/>
<line x1="1002.5" y1="502" x2="1002.5" y2="605" stroke="#e6d2c8" stroke-width="5" stroke-linecap="round"/>
<circle cx="1002.5" cy="502.2" r="6.5" fill="url(#gH)" stroke="#b9a3a3" stroke-width="0.8"/>
<circle cx="1002.5" cy="604.5" r="6.5" fill="url(#gH)" stroke="#b9a3a3" stroke-width="0.8"/>
<line x1="1222" y1="548.5" x2="1243.5" y2="548.5" stroke="#b0968a" stroke-width="5.4" stroke-linecap="round"/>
<line x1="1222" y1="548.5" x2="1243.5" y2="548.5" stroke="#e6d2c8" stroke-width="4" stroke-linecap="round"/>
<ellipse cx="1197" cy="502" rx="16.4" ry="19" fill="url(#gB)" stroke="#2c5f86" stroke-width="1.2" transform="rotate(20 1197 502)"/>
<ellipse cx="1197" cy="598" rx="16.4" ry="18" fill="url(#gB)" stroke="#2c5f86" stroke-width="1.2" transform="rotate(-20 1197 598)"/>
<ellipse cx="1230.8" cy="514.4" rx="20.7" ry="27.4" fill="url(#gG)" stroke="#557a33" stroke-width="1.2"/>
<ellipse cx="1230.8" cy="584.8" rx="20.7" ry="27.7" fill="url(#gG)" stroke="#557a33" stroke-width="1.2"/>
<ellipse cx="1173" cy="550" rx="17.7" ry="35.7" fill="url(#gG)" stroke="#557a33" stroke-width="1.2"/>
<ellipse cx="1206" cy="550" rx="16" ry="33.7" fill="url(#gB)" stroke="#2c5f86" stroke-width="1.2"/>
<line x1="1216" y1="481.7" x2="1208" y2="500" stroke="#b0968a" stroke-width="4.6" stroke-linecap="round"/>
<line x1="1216" y1="481.7" x2="1208" y2="500" stroke="#e6d2c8" stroke-width="3.2" stroke-linecap="round"/>
<line x1="1217.4" y1="615.9" x2="1208" y2="600" stroke="#b0968a" stroke-width="4.6" stroke-linecap="round"/>
<line x1="1217.4" y1="615.9" x2="1208" y2="600" stroke="#e6d2c8" stroke-width="3.2" stroke-linecap="round"/>
<line x1="1181.4" y1="509.7" x2="1190" y2="520" stroke="#b0968a" stroke-width="4.6" stroke-linecap="round"/>
<line x1="1181.4" y1="509.7" x2="1190" y2="520" stroke="#e6d2c8" stroke-width="3.2" stroke-linecap="round"/>
<line x1="1181.4" y1="590.5" x2="1190" y2="580" stroke="#b0968a" stroke-width="4.6" stroke-linecap="round"/>
<line x1="1181.4" y1="590.5" x2="1190" y2="580" stroke="#e6d2c8" stroke-width="3.2" stroke-linecap="round"/>
<circle cx="1216" cy="481.7" r="5.5" fill="url(#gH)" stroke="#b9a3a3" stroke-width="0.8"/>
<circle cx="1181.4" cy="509.7" r="5.5" fill="url(#gH)" stroke="#b9a3a3" stroke-width="0.8"/>
<circle cx="1181.4" cy="590.5" r="5.5" fill="url(#gH)" stroke="#b9a3a3" stroke-width="0.8"/>
<circle cx="1217.4" cy="615.9" r="5.5" fill="url(#gH)" stroke="#b9a3a3" stroke-width="0.8"/>
<circle cx="1243.5" cy="548.5" r="5.5" fill="url(#gH)" stroke="#b9a3a3" stroke-width="0.8"/>
<path d="M1276,511 C1258,512 1251,535 1251.5,550 C1251,565 1258,588 1276,588.5 Z" fill="url(#gB)" stroke="#2c5f86" stroke-width="1.2"/>
<ellipse cx="1295.6" cy="549.5" rx="16.7" ry="29.7" fill="url(#gG)" stroke="#557a33" stroke-width="1.2"/>
<line x1="1276" y1="527" x2="1276" y2="569" stroke="#b0968a" stroke-width="4.9" stroke-linecap="round"/>
<line x1="1276" y1="527" x2="1276" y2="569" stroke="#e6d2c8" stroke-width="3.5" stroke-linecap="round"/>
<line x1="1276" y1="527" x2="1274.9" y2="511" stroke="#b0968a" stroke-width="4.6" stroke-linecap="round"/>
<line x1="1276" y1="527" x2="1274.9" y2="511" stroke="#e6d2c8" stroke-width="3.2" stroke-linecap="round"/>
<line x1="1276" y1="527" x2="1290.2" y2="511" stroke="#b0968a" stroke-width="4.6" stroke-linecap="round"/>
<line x1="1276" y1="527" x2="1290.2" y2="511" stroke="#e6d2c8" stroke-width="3.2" stroke-linecap="round"/>
<line x1="1276" y1="569" x2="1275.5" y2="587.2" stroke="#b0968a" stroke-width="4.6" stroke-linecap="round"/>
<line x1="1276" y1="569" x2="1275.5" y2="587.2" stroke="#e6d2c8" stroke-width="3.2" stroke-linecap="round"/>
<line x1="1276" y1="569" x2="1290.2" y2="585.8" stroke="#b0968a" stroke-width="4.6" stroke-linecap="round"/>
<line x1="1276" y1="569" x2="1290.2" y2="585.8" stroke="#e6d2c8" stroke-width="3.2" stroke-linecap="round"/>
<circle cx="1276" cy="527" r="5.5" fill="url(#gGhost)" opacity="0.6"/>
<circle cx="1276" cy="569" r="5.5" fill="url(#gGhost)" opacity="0.6"/>
<circle cx="1274.9" cy="511" r="5.5" fill="url(#gH)" stroke="#b9a3a3" stroke-width="0.8"/>
<circle cx="1290.2" cy="511" r="5.5" fill="url(#gH)" stroke="#b9a3a3" stroke-width="0.8"/>
<circle cx="1275.5" cy="587.2" r="5.5" fill="url(#gH)" stroke="#b9a3a3" stroke-width="0.8"/>
<circle cx="1290.2" cy="585.8" r="5.5" fill="url(#gH)" stroke="#b9a3a3" stroke-width="0.8"/>
<line x1="735.9" y1="705.0" x2="735.9" y2="727.0" stroke="#b0968a" stroke-width="3.6" stroke-linecap="round"/>
<line x1="735.9" y1="705.0" x2="735.9" y2="727.0" stroke="#e6d2c8" stroke-width="2.2" stroke-linecap="round"/>
<line x1="739.1" y1="705.0" x2="739.1" y2="727.0" stroke="#b0968a" stroke-width="3.6" stroke-linecap="round"/>
<line x1="739.1" y1="705.0" x2="739.1" y2="727.0" stroke="#e6d2c8" stroke-width="2.2" stroke-linecap="round"/>
<line x1="804.9" y1="715.5" x2="825.6" y2="715.5" stroke="#b0968a" stroke-width="4.6" stroke-linecap="round"/>
<line x1="804.9" y1="715.5" x2="825.6" y2="715.5" stroke="#e6d2c8" stroke-width="3.2" stroke-linecap="round"/>
<line x1="804.9" y1="715.5" x2="790" y2="700" stroke="#b0968a" stroke-width="4.6" stroke-linecap="round"/>
<line x1="804.9" y1="715.5" x2="790" y2="700" stroke="#e6d2c8" stroke-width="3.2" stroke-linecap="round"/>
<line x1="804.9" y1="715.5" x2="790" y2="731" stroke="#b0968a" stroke-width="4.6" stroke-linecap="round"/>
<line x1="804.9" y1="715.5" x2="790" y2="731" stroke="#e6d2c8" stroke-width="3.2" stroke-linecap="round"/>
<line x1="708.7" y1="673.4" x2="722" y2="684" stroke="#b0968a" stroke-width="4.6" stroke-linecap="round"/>
<line x1="708.7" y1="673.4" x2="722" y2="684" stroke="#e6d2c8" stroke-width="3.2" stroke-linecap="round"/>
<line x1="785.5" y1="646" x2="780" y2="660" stroke="#b0968a" stroke-width="4.6" stroke-linecap="round"/>
<line x1="785.5" y1="646" x2="780" y2="660" stroke="#e6d2c8" stroke-width="3.2" stroke-linecap="round"/>
<line x1="708.7" y1="757.5" x2="722" y2="748" stroke="#b0968a" stroke-width="4.6" stroke-linecap="round"/>
<line x1="708.7" y1="757.5" x2="722" y2="748" stroke="#e6d2c8" stroke-width="3.2" stroke-linecap="round"/>
<line x1="786.2" y1="784.2" x2="782" y2="772" stroke="#b0968a" stroke-width="4.6" stroke-linecap="round"/>
<line x1="786.2" y1="784.2" x2="782" y2="772" stroke="#e6d2c8" stroke-width="3.2" stroke-linecap="round"/>
<path d="M717.4,688 C718,675 740,662 770,653.4 C785,650 797,655 800.9,680 C802,693 797,700 785,703 C765,707 750,708 735,707 C722,706 717,698 717.4,688 Z" fill="url(#gBt)" stroke="#22557a" stroke-width="1.2"/>
<path d="M717.4,744 C717,730 728,724 745,725 C770,726 792,728 798,740 C803,752 802,772 790,777 C778,782 760,775 743,768 C728,762 718,756 717.4,744 Z" fill="url(#gGd)" stroke="#4a7628" stroke-width="1.2"/>
<circle cx="804.9" cy="715.5" r="8" fill="url(#gC)" stroke="#7a6050" stroke-width="0.8"/>
<circle cx="708.7" cy="673.4" r="5.5" fill="url(#gH)" stroke="#b9a3a3" stroke-width="0.8"/>
<circle cx="785.5" cy="646" r="5.5" fill="url(#gH)" stroke="#b9a3a3" stroke-width="0.8"/>
<circle cx="825.6" cy="715.5" r="5.5" fill="url(#gH)" stroke="#b9a3a3" stroke-width="0.8"/>
<circle cx="708.7" cy="757.5" r="5.5" fill="url(#gH)" stroke="#b9a3a3" stroke-width="0.8"/>
<circle cx="786.2" cy="784.2" r="5.5" fill="url(#gH)" stroke="#b9a3a3" stroke-width="0.8"/>
<line x1="736.7" y1="691.4" x2="775.5" y2="678.7" stroke="#e8eef0" stroke-width="2.2" opacity="0.4" stroke-linecap="round"/>
<line x1="736.7" y1="738.8" x2="776.8" y2="752.2" stroke="#e8eef0" stroke-width="2.2" opacity="0.4" stroke-linecap="round"/>
<circle cx="736.7" cy="691.4" r="7" fill="url(#gGhost)" opacity="0.5"/>
<circle cx="775.5" cy="678.7" r="7" fill="url(#gGhost)" opacity="0.5"/>
<circle cx="736.7" cy="738.8" r="7" fill="url(#gGhost)" opacity="0.5"/>
<circle cx="776.8" cy="752.2" r="7" fill="url(#gGhost)" opacity="0.5"/>
<line x1="1000" y1="662" x2="1000" y2="752" stroke="#b0968a" stroke-width="7.4" stroke-linecap="round"/>
<line x1="1000" y1="662" x2="1000" y2="752" stroke="#e6d2c8" stroke-width="6" stroke-linecap="round"/>
<polygon points="996.5,706.5 996.5,714.5 996.4,719.2 996.2,723.2 996.0,726.6 995.7,729.7 995.3,732.6 994.9,735.2 994.4,737.7 993.8,740.0 993.1,742.1 992.4,744.0 991.7,745.8 990.8,747.4 989.9,748.9 988.9,750.3 987.8,751.5 986.6,752.5 985.4,753.5 984.0,754.2 982.5,754.9 980.9,755.4 979.0,755.7 976.8,755.9 973.0,756.0 971.2,755.9 969.6,755.6 968.0,755.1 966.5,754.4 965.0,753.5 963.6,752.4 962.2,751.1 960.9,749.7 959.6,748.0 958.4,746.2 957.2,744.2 956.1,742.1 955.1,739.8 954.1,737.4 953.3,734.8 952.5,732.1 951.8,729.3 951.2,726.3 950.7,723.3 950.3,720.2 949.9,716.9 949.7,713.6 949.5,710.2 949.5,706.5 949.5,702.8 949.7,699.4 949.9,696.1 950.3,692.8 950.7,689.7 951.2,686.7 951.8,683.7 952.5,680.9 953.3,678.2 954.1,675.6 955.1,673.2 956.1,670.9 957.2,668.8 958.4,666.8 959.6,665.0 960.9,663.3 962.2,661.9 963.6,660.6 965.0,659.5 966.5,658.6 968.0,657.9 969.6,657.4 971.2,657.1 973.0,657.0 976.8,657.1 979.0,657.3 980.9,657.6 982.5,658.1 984.0,658.8 985.4,659.5 986.6,660.5 987.8,661.5 988.9,662.7 989.9,664.1 990.8,665.6 991.7,667.2 992.4,669.0 993.1,670.9 993.8,673.0 994.4,675.3 994.9,677.8 995.3,680.4 995.7,683.3 996.0,686.4 996.2,689.8 996.4,693.8 996.5,698.5" fill="url(#gB)" stroke="#2c5f86" stroke-width="1.2" stroke-linejoin="round"/>
<polygon points="1050.5,706.5 1050.5,710.2 1050.3,713.6 1050.1,716.9 1049.7,720.2 1049.3,723.3 1048.8,726.3 1048.2,729.3 1047.5,732.1 1046.7,734.8 1045.9,737.4 1044.9,739.8 1043.9,742.1 1042.8,744.2 1041.6,746.2 1040.4,748.0 1039.1,749.7 1037.8,751.1 1036.4,752.4 1035.0,753.5 1033.5,754.4 1032.0,755.1 1030.4,755.6 1028.8,755.9 1027.0,756.0 1023.2,755.9 1021.0,755.7 1019.1,755.4 1017.5,754.9 1016.0,754.2 1014.6,753.5 1013.4,752.5 1012.2,751.5 1011.1,750.3 1010.1,748.9 1009.2,747.4 1008.3,745.8 1007.6,744.0 1006.9,742.1 1006.2,740.0 1005.6,737.7 1005.1,735.2 1004.7,732.6 1004.3,729.7 1004.0,726.6 1003.8,723.2 1003.6,719.2 1003.5,714.5 1003.5,706.5 1003.5,698.5 1003.6,693.8 1003.8,689.8 1004.0,686.4 1004.3,683.3 1004.7,680.4 1005.1,677.8 1005.6,675.3 1006.2,673.0 1006.9,670.9 1007.6,669.0 1008.3,667.2 1009.2,665.6 1010.1,664.1 1011.1,662.7 1012.2,661.5 1013.4,660.5 1014.6,659.5 1016.0,658.8 1017.5,658.1 1019.1,657.6 1021.0,657.3 1023.2,657.1 1027.0,657.0 1028.8,657.1 1030.4,657.4 1032.0,657.9 1033.5,658.6 1035.0,659.5 1036.4,660.6 1037.8,661.9 1039.1,663.3 1040.4,665.0 1041.6,666.8 1042.8,668.8 1043.9,670.9 1044.9,673.2 1045.9,675.6 1046.7,678.2 1047.5,680.9 1048.2,683.7 1048.8,686.7 1049.3,689.7 1049.7,692.8 1050.1,696.1 1050.3,699.4 1050.5,702.8" fill="url(#gG)" stroke="#557a33" stroke-width="1.2" stroke-linejoin="round"/>
<line x1="1000" y1="668" x2="1000" y2="745" stroke="#b0968a" stroke-width="6.4" stroke-linecap="round"/>
<line x1="1000" y1="668" x2="1000" y2="745" stroke="#e6d2c8" stroke-width="5" stroke-linecap="round"/>
<circle cx="1000" cy="657" r="7" fill="url(#gH)" stroke="#b9a3a3" stroke-width="0.8"/>
<circle cx="1000" cy="756" r="7" fill="url(#gH)" stroke="#b9a3a3" stroke-width="0.8"/>
<line x1="1398.8" y1="653.7" x2="1398.8" y2="796" stroke="#b0968a" stroke-width="4.4" stroke-linecap="round"/>
<line x1="1398.8" y1="653.7" x2="1398.8" y2="796" stroke="#e6d2c8" stroke-width="3" stroke-linecap="round"/>
<line x1="1374.7" y1="698" x2="1374.7" y2="746.5" stroke="#b0968a" stroke-width="4.4" stroke-linecap="round"/>
<line x1="1374.7" y1="698" x2="1374.7" y2="746.5" stroke="#e6d2c8" stroke-width="3" stroke-linecap="round"/>
<line x1="1462.2" y1="702" x2="1462.2" y2="746.5" stroke="#b0968a" stroke-width="4.4" stroke-linecap="round"/>
<line x1="1462.2" y1="702" x2="1462.2" y2="746.5" stroke="#e6d2c8" stroke-width="3" stroke-linecap="round"/>
<ellipse cx="1368" cy="687" rx="25.6" ry="29.7" fill="url(#gB)" stroke="#2c5f86" stroke-width="1.2" transform="rotate(-20 1368 687)"/>
<ellipse cx="1368" cy="764" rx="25.6" ry="29" fill="url(#gG)" stroke="#557a33" stroke-width="1.2" transform="rotate(20 1368 764)"/>
<path d="M1374,711 C1378,690 1395,662 1417,658 C1438,656 1452,685 1457.5,708 C1459,716 1452,716 1440,716 L1390,716.5 C1378,717 1373,716 1374,711 Z" fill="url(#gG)" stroke="#557a33" stroke-width="1.2"/>
<path d="M1374,739.5 C1378,760.5 1395,788.5 1417,792.5 C1438,794.5 1452,765.5 1457.5,742.5 C1459,734.5 1452,734.5 1440,734.5 L1390,734 C1378,733.5 1373,734.5 1374,739.5 Z" fill="url(#gB)" stroke="#2c5f86" stroke-width="1.2"/>
<ellipse cx="1476" cy="697" rx="13.7" ry="16" fill="url(#gB)" stroke="#2c5f86" stroke-width="1.2"/>
<ellipse cx="1476" cy="753.8" rx="13.7" ry="16" fill="url(#gG)" stroke="#557a33" stroke-width="1.2"/>
<line x1="1368" y1="725" x2="1426.8" y2="724.5" stroke="#b0968a" stroke-width="5.4" stroke-linecap="round"/>
<line x1="1368" y1="725" x2="1426.8" y2="724.5" stroke="#e6d2c8" stroke-width="4" stroke-linecap="round"/>
<line x1="1374.7" y1="710" x2="1374.7" y2="740" stroke="#b0968a" stroke-width="4.4" stroke-linecap="round"/>
<line x1="1374.7" y1="710" x2="1374.7" y2="740" stroke="#e6d2c8" stroke-width="3" stroke-linecap="round"/>
<line x1="1462.2" y1="712" x2="1462.2" y2="740" stroke="#b0968a" stroke-width="4.4" stroke-linecap="round"/>
<line x1="1462.2" y1="712" x2="1462.2" y2="740" stroke="#e6d2c8" stroke-width="3" stroke-linecap="round"/>
<line x1="1372" y1="684" x2="1372" y2="767" stroke="#ead6cc" stroke-width="3" opacity="0.5" stroke-linecap="round"/>
<line x1="1462.2" y1="686" x2="1462.2" y2="766" stroke="#ead6cc" stroke-width="3" opacity="0.5" stroke-linecap="round"/>
<circle cx="1399.4" cy="725.1" r="9" fill="url(#gC)" stroke="#7a6050" stroke-width="0.8"/>
<circle cx="1462.2" cy="702.4" r="6" fill="url(#gGhost)" opacity="0.6"/>
<circle cx="1462.2" cy="746.5" r="6" fill="url(#gGhost)" opacity="0.6"/>
<circle cx="1372" cy="702.4" r="6" fill="url(#gGhost)" opacity="0.6"/>
<circle cx="1372" cy="746.5" r="6" fill="url(#gGhost)" opacity="0.6"/>
<circle cx="1368" cy="725" r="5.5" fill="url(#gH)" stroke="#b9a3a3" stroke-width="0.8"/>
<circle cx="1426.8" cy="724.5" r="5.5" fill="url(#gH)" stroke="#b9a3a3" stroke-width="0.8"/>
<circle cx="1398.8" cy="653.7" r="5.5" fill="url(#gH)" stroke="#b9a3a3" stroke-width="0.8"/>
<circle cx="1398.8" cy="796" r="5.5" fill="url(#gH)" stroke="#b9a3a3" stroke-width="0.8"/>
<circle cx="1460.9" cy="685" r="5.5" fill="url(#gH)" stroke="#b9a3a3" stroke-width="0.8"/>
<circle cx="1461.5" cy="765.9" r="5.5" fill="url(#gH)" stroke="#b9a3a3" stroke-width="0.8"/>
<circle cx="1362" cy="683" r="5.5" fill="url(#gH)" stroke="#b9a3a3" stroke-width="0.8"/>
<circle cx="1362.7" cy="768.5" r="5.5" fill="url(#gH)" stroke="#b9a3a3" stroke-width="0.8"/>
<line x1="1204.5" y1="737.7" x2="1204.5" y2="873.3" stroke="#b0968a" stroke-width="4.9" stroke-linecap="round"/>
<line x1="1204.5" y1="737.7" x2="1204.5" y2="873.3" stroke="#e6d2c8" stroke-width="3.5" stroke-linecap="round"/>
<line x1="1212.3" y1="805.2" x2="1227.2" y2="805.2" stroke="#b0968a" stroke-width="6.4" stroke-linecap="round"/>
<line x1="1212.3" y1="805.2" x2="1227.2" y2="805.2" stroke="#e6d2c8" stroke-width="5" stroke-linecap="round"/>
<polygon points="1179.0,806.2 1178.9,811.8 1178.7,816.2 1178.4,820.1 1178.0,823.8 1177.4,827.2 1176.7,830.3 1175.9,833.3 1175.0,836.0 1173.9,838.4 1172.8,840.6 1171.5,842.6 1170.1,844.3 1168.7,845.8 1167.1,847.0 1165.3,848.0 1163.5,848.7 1161.4,849.1 1158.8,849.2 1156.2,849.1 1154.1,848.7 1152.3,848.0 1150.5,847.0 1148.9,845.8 1147.5,844.3 1146.1,842.6 1144.8,840.6 1143.7,838.4 1142.6,836.0 1141.7,833.3 1140.9,830.3 1140.2,827.2 1139.6,823.8 1139.2,820.1 1138.9,816.2 1138.7,811.8 1138.6,806.2 1138.7,800.6 1138.9,796.2 1139.2,792.3 1139.6,788.6 1140.2,785.2 1140.9,782.1 1141.7,779.1 1142.6,776.4 1143.7,774.0 1144.8,771.8 1146.1,769.8 1147.5,768.1 1148.9,766.6 1150.5,765.4 1152.3,764.4 1154.1,763.7 1156.2,763.3 1158.8,763.2 1161.4,763.3 1163.5,763.7 1165.3,764.4 1167.1,765.4 1168.7,766.6 1170.1,768.1 1171.5,769.8 1172.8,771.8 1173.9,774.0 1175.0,776.4 1175.9,779.1 1176.7,782.1 1177.4,785.2 1178.0,788.6 1178.4,792.3 1178.7,796.2 1178.9,800.6" fill="url(#gB)" stroke="#2c5f86" stroke-width="1.2" stroke-linejoin="round"/>
<polygon points="1212.4,806.2 1212.4,813.3 1212.2,818.0 1212.0,822.0 1211.6,825.6 1211.2,828.9 1210.7,831.9 1210.1,834.7 1209.4,837.2 1208.6,839.5 1207.7,841.5 1206.8,843.3 1205.7,844.9 1204.5,846.2 1203.2,847.3 1201.8,848.1 1200.3,848.7 1198.4,849.1 1195.7,849.2 1193.0,849.1 1191.1,848.7 1189.6,848.1 1188.2,847.3 1186.9,846.2 1185.7,844.9 1184.6,843.3 1183.7,841.5 1182.8,839.5 1182.0,837.2 1181.3,834.7 1180.7,831.9 1180.2,828.9 1179.8,825.6 1179.4,822.0 1179.2,818.0 1179.0,813.3 1179.0,806.2 1179.0,799.1 1179.2,794.4 1179.4,790.4 1179.8,786.8 1180.2,783.5 1180.7,780.5 1181.3,777.7 1182.0,775.2 1182.8,772.9 1183.7,770.9 1184.6,769.1 1185.7,767.5 1186.9,766.2 1188.2,765.1 1189.6,764.3 1191.1,763.7 1193.0,763.3 1195.7,763.2 1198.4,763.3 1200.3,763.7 1201.8,764.3 1203.2,765.1 1204.5,766.2 1205.7,767.5 1206.8,769.1 1207.7,770.9 1208.6,772.9 1209.4,775.2 1210.1,777.7 1210.7,780.5 1211.2,783.5 1211.6,786.8 1212.0,790.4 1212.2,794.4 1212.4,799.1" fill="url(#gG)" stroke="#557a33" stroke-width="1.2" stroke-linejoin="round"/>
<polygon points="1267.0,806.0 1266.9,813.5 1266.8,818.9 1266.5,823.8 1266.0,828.3 1265.5,832.4 1264.8,836.2 1264.0,839.7 1263.2,842.9 1262.2,845.8 1261.0,848.4 1259.8,850.8 1258.5,852.8 1257.0,854.5 1255.5,856.0 1253.8,857.1 1251.9,857.9 1249.8,858.3 1247.0,858.5 1244.2,858.3 1242.1,857.9 1240.2,857.1 1238.5,856.0 1237.0,854.5 1235.5,852.8 1234.2,850.8 1233.0,848.4 1231.8,845.8 1230.8,842.9 1230.0,839.7 1229.2,836.2 1228.5,832.4 1228.0,828.3 1227.5,823.8 1227.2,818.9 1227.1,813.5 1227.0,806.0 1227.1,798.5 1227.2,793.1 1227.5,788.2 1228.0,783.7 1228.5,779.6 1229.2,775.8 1230.0,772.3 1230.8,769.1 1231.8,766.2 1233.0,763.6 1234.2,761.2 1235.5,759.2 1237.0,757.5 1238.5,756.0 1240.2,754.9 1242.1,754.1 1244.2,753.7 1247.0,753.5 1249.8,753.7 1251.9,754.1 1253.8,754.9 1255.5,756.0 1257.0,757.5 1258.5,759.2 1259.8,761.2 1261.0,763.6 1262.2,766.2 1263.2,769.1 1264.0,772.3 1264.8,775.8 1265.5,779.6 1266.0,783.7 1266.5,788.2 1266.8,793.1 1266.9,798.5" fill="url(#gB)" stroke="#2c5f86" stroke-width="1.2" stroke-linejoin="round"/>
<polygon points="1313.0,805.9 1312.9,810.1 1312.7,813.8 1312.3,817.3 1311.7,820.6 1311.0,823.7 1310.2,826.7 1309.2,829.4 1308.1,832.0 1306.8,834.4 1305.4,836.5 1303.9,838.4 1302.2,840.1 1300.5,841.6 1298.7,842.8 1296.7,843.7 1294.7,844.4 1292.5,844.8 1290.0,844.9 1287.5,844.8 1285.3,844.4 1283.3,843.7 1281.3,842.8 1279.5,841.6 1277.8,840.1 1276.1,838.4 1274.6,836.5 1273.2,834.4 1271.9,832.0 1270.8,829.4 1269.8,826.7 1269.0,823.7 1268.3,820.6 1267.7,817.3 1267.3,813.8 1267.1,810.1 1267.0,805.9 1267.1,801.7 1267.3,798.0 1267.7,794.5 1268.3,791.2 1269.0,788.1 1269.8,785.1 1270.8,782.4 1271.9,779.8 1273.2,777.4 1274.6,775.3 1276.1,773.4 1277.8,771.7 1279.5,770.2 1281.3,769.0 1283.3,768.1 1285.3,767.4 1287.5,767.0 1290.0,766.9 1292.5,767.0 1294.7,767.4 1296.7,768.1 1298.7,769.0 1300.5,770.2 1302.2,771.7 1303.9,773.4 1305.4,775.3 1306.8,777.4 1308.1,779.8 1309.2,782.4 1310.2,785.1 1311.0,788.1 1311.7,791.2 1312.3,794.5 1312.7,798.0 1312.9,801.7" fill="url(#gG)" stroke="#557a33" stroke-width="1.2" stroke-linejoin="round"/>
<line x1="1178.5" y1="766" x2="1178.5" y2="846" stroke="#e8eef0" stroke-width="3" opacity="0.5" stroke-linecap="round"/>
<line x1="1265" y1="768" x2="1265" y2="844" stroke="#e8eef0" stroke-width="3" opacity="0.5" stroke-linecap="round"/>
<circle cx="1178.5" cy="785" r="5.5" fill="url(#gGhost)" opacity="0.5"/>
<circle cx="1178.5" cy="827" r="5.5" fill="url(#gGhost)" opacity="0.5"/>
<circle cx="1265" cy="787" r="5.5" fill="url(#gGhost)" opacity="0.5"/>
<circle cx="1265" cy="825" r="5.5" fill="url(#gGhost)" opacity="0.5"/>
<line x1="1169" y1="765.4" x2="1180" y2="780" stroke="#b0968a" stroke-width="4.6" stroke-linecap="round"/>
<line x1="1169" y1="765.4" x2="1180" y2="780" stroke="#e6d2c8" stroke-width="3.2" stroke-linecap="round"/>
<line x1="1169" y1="847" x2="1180" y2="832" stroke="#b0968a" stroke-width="4.6" stroke-linecap="round"/>
<line x1="1169" y1="847" x2="1180" y2="832" stroke="#e6d2c8" stroke-width="3.2" stroke-linecap="round"/>
<line x1="1263.4" y1="767.6" x2="1267" y2="790" stroke="#b0968a" stroke-width="4.6" stroke-linecap="round"/>
<line x1="1263.4" y1="767.6" x2="1267" y2="790" stroke="#e6d2c8" stroke-width="3.2" stroke-linecap="round"/>
<line x1="1264.1" y1="844.2" x2="1267" y2="822" stroke="#b0968a" stroke-width="4.6" stroke-linecap="round"/>
<line x1="1264.1" y1="844.2" x2="1267" y2="822" stroke="#e6d2c8" stroke-width="3.2" stroke-linecap="round"/>
<circle cx="1204.5" cy="737.7" r="5.5" fill="url(#gH)" stroke="#b9a3a3" stroke-width="0.8"/>
<circle cx="1204.5" cy="873.3" r="5.5" fill="url(#gH)" stroke="#b9a3a3" stroke-width="0.8"/>
<circle cx="1169" cy="765.4" r="5.5" fill="url(#gH)" stroke="#b9a3a3" stroke-width="0.8"/>
<circle cx="1169" cy="847" r="5.5" fill="url(#gH)" stroke="#b9a3a3" stroke-width="0.8"/>
<circle cx="1263.4" cy="767.6" r="5.5" fill="url(#gH)" stroke="#b9a3a3" stroke-width="0.8"/>
<circle cx="1264.1" cy="844.2" r="5.5" fill="url(#gH)" stroke="#b9a3a3" stroke-width="0.8"/>
<circle cx="1279" cy="765.4" r="5.5" fill="url(#gH)" stroke="#b9a3a3" stroke-width="0.8"/>
<circle cx="1279" cy="845" r="5.5" fill="url(#gH)" stroke="#b9a3a3" stroke-width="0.8"/>
<line x1="802.2" y1="875.1" x2="782" y2="855" stroke="#b0968a" stroke-width="4.6" stroke-linecap="round"/>
<line x1="802.2" y1="875.1" x2="782" y2="855" stroke="#e6d2c8" stroke-width="3.2" stroke-linecap="round"/>
<line x1="802.2" y1="875.1" x2="782" y2="895" stroke="#b0968a" stroke-width="4.6" stroke-linecap="round"/>
<line x1="802.2" y1="875.1" x2="782" y2="895" stroke="#e6d2c8" stroke-width="3.2" stroke-linecap="round"/>
<line x1="784.8" y1="808.4" x2="778" y2="826" stroke="#b0968a" stroke-width="4.6" stroke-linecap="round"/>
<line x1="784.8" y1="808.4" x2="778" y2="826" stroke="#e6d2c8" stroke-width="3.2" stroke-linecap="round"/>
<line x1="785.5" y1="941.9" x2="778" y2="924" stroke="#b0968a" stroke-width="4.6" stroke-linecap="round"/>
<line x1="785.5" y1="941.9" x2="778" y2="924" stroke="#e6d2c8" stroke-width="3.2" stroke-linecap="round"/>
<line x1="710" y1="833.7" x2="722" y2="842" stroke="#b0968a" stroke-width="4.6" stroke-linecap="round"/>
<line x1="710" y1="833.7" x2="722" y2="842" stroke="#e6d2c8" stroke-width="3.2" stroke-linecap="round"/>
<line x1="710" y1="913.9" x2="722" y2="905" stroke="#b0968a" stroke-width="4.6" stroke-linecap="round"/>
<line x1="710" y1="913.9" x2="722" y2="905" stroke="#e6d2c8" stroke-width="3.2" stroke-linecap="round"/>
<path d="M714.7,855 C716,838 735,828 750,825.7 C765,823 785,820 789.5,835 C792,850 785,862 773.5,870 C768,876 770,880 775,884 C785,893 792,905 788.5,919 C784,930 770,930 755,925 C740,921 725,918 720.7,912.5 C713,900 713,870 714.7,855 Z" fill="url(#gBt)" stroke="#22557a" stroke-width="1.2"/>
<circle cx="802.2" cy="875.1" r="8" fill="url(#gC)" stroke="#7a6050" stroke-width="0.8"/>
<path d="M804,875 C808,864 830,862 833,873 C835,885 810,889 804,875 Z" fill="url(#gGd)" stroke="#4a7628" stroke-width="1.2"/>
<circle cx="710" cy="833.7" r="5.5" fill="url(#gH)" stroke="#b9a3a3" stroke-width="0.8"/>
<circle cx="784.8" cy="808.4" r="5.5" fill="url(#gH)" stroke="#b9a3a3" stroke-width="0.8"/>
<circle cx="710" cy="913.9" r="5.5" fill="url(#gH)" stroke="#b9a3a3" stroke-width="0.8"/>
<circle cx="785.5" cy="941.9" r="5.5" fill="url(#gH)" stroke="#b9a3a3" stroke-width="0.8"/>
<line x1="736.7" y1="852.4" x2="775.5" y2="839" stroke="#e8eef0" stroke-width="2.2" opacity="0.4" stroke-linecap="round"/>
<line x1="736.7" y1="896.5" x2="775.5" y2="909.9" stroke="#e8eef0" stroke-width="2.2" opacity="0.4" stroke-linecap="round"/>
<line x1="736.7" y1="852.4" x2="736.7" y2="896.5" stroke="#e8eef0" stroke-width="2.2" opacity="0.4" stroke-linecap="round"/>
<circle cx="736.7" cy="852.4" r="7" fill="url(#gGhost)" opacity="0.5"/>
<circle cx="775.5" cy="839" r="7" fill="url(#gGhost)" opacity="0.5"/>
<circle cx="736.7" cy="896.5" r="7" fill="url(#gGhost)" opacity="0.5"/>
<circle cx="775.5" cy="909.9" r="7" fill="url(#gGhost)" opacity="0.5"/>
<line x1="1401.7" y1="829.2" x2="1401.7" y2="968.3" stroke="#b0968a" stroke-width="4.9" stroke-linecap="round"/>
<line x1="1401.7" y1="829.2" x2="1401.7" y2="968.3" stroke="#e6d2c8" stroke-width="3.5" stroke-linecap="round"/>
<polygon points="1396.5,900.0 1396.4,908.4 1396.2,914.2 1395.7,919.3 1395.1,923.9 1394.3,928.1 1393.4,932.0 1392.3,935.6 1391.0,938.9 1389.6,941.8 1388.0,944.5 1386.2,946.8 1384.3,948.9 1382.2,950.6 1379.9,952.0 1377.4,953.2 1374.7,954.0 1371.5,954.4 1367.0,954.6 1362.5,954.4 1359.3,954.0 1356.6,953.2 1354.1,952.0 1351.8,950.6 1349.7,948.9 1347.8,946.8 1346.0,944.5 1344.4,941.8 1343.0,938.9 1341.7,935.6 1340.6,932.0 1339.7,928.1 1338.9,923.9 1338.3,919.3 1337.8,914.2 1337.6,908.4 1337.5,900.0 1337.6,891.6 1337.8,885.8 1338.3,880.7 1338.9,876.1 1339.7,871.9 1340.6,868.0 1341.7,864.4 1343.0,861.1 1344.4,858.2 1346.0,855.5 1347.8,853.2 1349.7,851.1 1351.8,849.4 1354.1,848.0 1356.6,846.8 1359.3,846.0 1362.5,845.6 1367.0,845.4 1371.5,845.6 1374.7,846.0 1377.4,846.8 1379.9,848.0 1382.2,849.4 1384.3,851.1 1386.2,853.2 1388.0,855.5 1389.6,858.2 1391.0,861.1 1392.3,864.4 1393.4,868.0 1394.3,871.9 1395.1,876.1 1395.7,880.7 1396.2,885.8 1396.4,891.6" fill="url(#gG)" stroke="#557a33" stroke-width="1.2" stroke-linejoin="round"/>
<path d="M1374,875 C1376,855 1395,849 1415,843.4 C1432,845 1450,850 1457.8,856 C1462,870 1458,888 1453.5,899 C1458,910 1462,930 1457.8,944 C1450,950 1432,956 1415,956.3 C1395,951 1376,945 1375.4,925.7 C1373,910 1373,890 1374,875 Z" fill="url(#gB)" stroke="#2c5f86" stroke-width="1.2"/>
<line x1="1463" y1="860" x2="1463" y2="940" stroke="#b0968a" stroke-width="4.4" stroke-linecap="round"/>
<line x1="1463" y1="860" x2="1463" y2="940" stroke="#e6d2c8" stroke-width="3" stroke-linecap="round"/>
<ellipse cx="1482" cy="900" rx="18.5" ry="37" fill="url(#gG)" stroke="#557a33" stroke-width="1.2"/>
<line x1="1365.5" y1="858.3" x2="1376" y2="880" stroke="#b0968a" stroke-width="4.6" stroke-linecap="round"/>
<line x1="1365.5" y1="858.3" x2="1376" y2="880" stroke="#e6d2c8" stroke-width="3.2" stroke-linecap="round"/>
<line x1="1365.5" y1="942.8" x2="1376" y2="920" stroke="#b0968a" stroke-width="4.6" stroke-linecap="round"/>
<line x1="1365.5" y1="942.8" x2="1376" y2="920" stroke="#e6d2c8" stroke-width="3.2" stroke-linecap="round"/>
<line x1="1376" y1="860" x2="1376" y2="942" stroke="#ead6cc" stroke-width="3" opacity="0.5" stroke-linecap="round"/>
<circle cx="1401.7" cy="829.2" r="5.5" fill="url(#gH)" stroke="#b9a3a3" stroke-width="0.8"/>
<circle cx="1401.7" cy="968.3" r="5.5" fill="url(#gH)" stroke="#b9a3a3" stroke-width="0.8"/>
<circle cx="1365.5" cy="858.3" r="5.5" fill="url(#gH)" stroke="#b9a3a3" stroke-width="0.8"/>
<circle cx="1365.5" cy="942.8" r="5.5" fill="url(#gH)" stroke="#b9a3a3" stroke-width="0.8"/>
<circle cx="1462.7" cy="859.7" r="5.5" fill="url(#gH)" stroke="#b9a3a3" stroke-width="0.8"/>
<circle cx="1463.4" cy="940" r="5.5" fill="url(#gH)" stroke="#b9a3a3" stroke-width="0.8"/>
<circle cx="1478.4" cy="859" r="5.5" fill="url(#gH)" stroke="#b9a3a3" stroke-width="0.8"/>
<circle cx="1478.4" cy="939.2" r="5.5" fill="url(#gH)" stroke="#b9a3a3" stroke-width="0.8"/>
<line x1="746" y1="1041" x2="746" y2="1082" stroke="#b0968a" stroke-width="4.4" stroke-linecap="round"/>
<line x1="746" y1="1041" x2="746" y2="1082" stroke="#e6d2c8" stroke-width="3" stroke-linecap="round"/>
<line x1="749.6" y1="1037.4" x2="783.6" y2="1027.5" stroke="#b0968a" stroke-width="4.6" stroke-linecap="round"/>
<line x1="749.6" y1="1037.4" x2="783.6" y2="1027.5" stroke="#e6d2c8" stroke-width="3.2" stroke-linecap="round"/>
<line x1="749.6" y1="1086" x2="783.6" y2="1095" stroke="#b0968a" stroke-width="4.6" stroke-linecap="round"/>
<line x1="749.6" y1="1086" x2="783.6" y2="1095" stroke="#e6d2c8" stroke-width="3.2" stroke-linecap="round"/>
<line x1="790" y1="1061" x2="823" y2="1061" stroke="#b0968a" stroke-width="4.6" stroke-linecap="round"/>
<line x1="790" y1="1061" x2="823" y2="1061" stroke="#e6d2c8" stroke-width="3.2" stroke-linecap="round"/>
<ellipse cx="725.5" cy="1032.8" rx="18" ry="13.5" fill="url(#gG)" stroke="#557a33" stroke-width="1.2" transform="rotate(35 725.5 1032.8)"/>
<path d="M749,1044 C752,1025 762,1000 778,989 C792,982 806,990 800,1008 C795,1025 770,1040 749,1044 Z" fill="url(#gB)" stroke="#2c5f86" stroke-width="1.2"/>
<ellipse cx="798" cy="1042.4" rx="26" ry="17.7" fill="url(#gG)" stroke="#557a33" stroke-width="1.2" transform="rotate(10 798 1042.4)"/>
<ellipse cx="798" cy="1081" rx="26" ry="17.4" fill="url(#gB)" stroke="#2c5f86" stroke-width="1.2" transform="rotate(-10 798 1081)"/>
<ellipse cx="725" cy="1090.6" rx="18" ry="13.5" fill="url(#gB)" stroke="#2c5f86" stroke-width="1.2" transform="rotate(-35 725 1090.6)"/>
<path d="M751,1081 C772,1085 796,1100 800,1118 C805,1136 790,1142 778,1132 C762,1120 753,1100 751,1081 Z" fill="url(#gG)" stroke="#557a33" stroke-width="1.2"/>
<line x1="790" y1="1061" x2="818" y2="1061" stroke="#b0968a" stroke-width="4.6" stroke-linecap="round"/>
<line x1="790" y1="1061" x2="818" y2="1061" stroke="#e6d2c8" stroke-width="3.2" stroke-linecap="round"/>
<line x1="746" y1="1041" x2="787" y2="997" stroke="#eadcd4" stroke-width="2.5" opacity="0.45" stroke-linecap="round"/>
<line x1="746" y1="1082" x2="788" y2="1123" stroke="#eadcd4" stroke-width="2.5" opacity="0.45" stroke-linecap="round"/>
<line x1="746" y1="1041" x2="716" y2="1022" stroke="#eadcd4" stroke-width="2.5" opacity="0.45" stroke-linecap="round"/>
<line x1="746" y1="1082" x2="716" y2="1101" stroke="#eadcd4" stroke-width="2.5" opacity="0.45" stroke-linecap="round"/>
<line x1="783" y1="1027" x2="808" y2="1052" stroke="#eadcd4" stroke-width="2" opacity="0.4" stroke-linecap="round"/>
<line x1="783" y1="1095" x2="808" y2="1070" stroke="#eadcd4" stroke-width="2" opacity="0.4" stroke-linecap="round"/>
<circle cx="787" cy="997" r="5" fill="url(#gGhost)" opacity="0.5"/>
<circle cx="788" cy="1123" r="5" fill="url(#gGhost)" opacity="0.5"/>
<circle cx="716" cy="1022" r="4.5" fill="url(#gGhost)" opacity="0.5"/>
<circle cx="716" cy="1101" r="4.5" fill="url(#gGhost)" opacity="0.5"/>
<circle cx="746" cy="1041" r="7" fill="url(#gC)" stroke="#7a6050" stroke-width="0.8"/>
<circle cx="746" cy="1082" r="7" fill="url(#gC)" stroke="#7a6050" stroke-width="0.8"/>
<circle cx="823.3" cy="1060.8" r="5.5" fill="url(#gH)" stroke="#b9a3a3" stroke-width="0.8"/>
<ellipse cx="1215" cy="1036.7" rx="26.6" ry="21.3" fill="url(#gG)" stroke="#557a33" stroke-width="1.2"/>
<ellipse cx="1215" cy="1085.3" rx="26.6" ry="21.6" fill="url(#gB)" stroke="#2c5f86" stroke-width="1.2"/>
<ellipse cx="1201.4" cy="1017.2" rx="22.4" ry="33" fill="url(#gB)" stroke="#2c5f86" stroke-width="1.2" transform="rotate(15 1201.4 1017.2)"/>
<ellipse cx="1201.4" cy="1105.5" rx="21" ry="32.6" fill="url(#gG)" stroke="#557a33" stroke-width="1.2" transform="rotate(-15 1201.4 1105.5)"/>
<ellipse cx="1177" cy="1031.4" rx="12" ry="17" fill="url(#gG)" stroke="#557a33" stroke-width="1.2" transform="rotate(-20 1177 1031.4)"/>
<ellipse cx="1177" cy="1091.7" rx="12" ry="17" fill="url(#gB)" stroke="#2c5f86" stroke-width="1.2" transform="rotate(20 1177 1091.7)"/>
<line x1="1180.5" y1="1060.1" x2="1235.8" y2="1060.1" stroke="#b0968a" stroke-width="5.4" stroke-linecap="round"/>
<line x1="1180.5" y1="1060.1" x2="1235.8" y2="1060.1" stroke="#e6d2c8" stroke-width="4" stroke-linecap="round"/>
<line x1="1186.2" y1="1036" x2="1186.2" y2="1074.3" stroke="#b0968a" stroke-width="4.4" stroke-linecap="round"/>
<line x1="1186.2" y1="1036" x2="1186.2" y2="1074.3" stroke="#e6d2c8" stroke-width="3" stroke-linecap="round"/>
<line x1="1201" y1="990" x2="1201" y2="1036" stroke="#eadcd4" stroke-width="2.5" opacity="0.45" stroke-linecap="round"/>
<line x1="1201" y1="1085" x2="1201" y2="1130" stroke="#eadcd4" stroke-width="2.5" opacity="0.45" stroke-linecap="round"/>
<circle cx="1201" cy="1028" r="5" fill="url(#gGhost)" opacity="0.5"/>
<circle cx="1201" cy="1093" r="5" fill="url(#gGhost)" opacity="0.5"/>
<circle cx="1190.4" cy="1037.4" r="6" fill="url(#gC)" stroke="#7a6050" stroke-width="0.8"/>
<circle cx="1191.1" cy="1081.4" r="6" fill="url(#gC)" stroke="#7a6050" stroke-width="0.8"/>
<circle cx="1180.5" cy="1060.1" r="6" fill="url(#gH)" stroke="#b9a3a3" stroke-width="0.8"/>
<circle cx="1235.8" cy="1060.1" r="6" fill="url(#gH)" stroke="#b9a3a3" stroke-width="0.8"/>
<line x1="1268.4" y1="1041" x2="1269.1" y2="1080.7" stroke="#b0968a" stroke-width="4.4" stroke-linecap="round"/>
<line x1="1268.4" y1="1041" x2="1269.1" y2="1080.7" stroke="#e6d2c8" stroke-width="3" stroke-linecap="round"/>
<line x1="1268.4" y1="1041" x2="1267" y2="1023.9" stroke="#b0968a" stroke-width="4.6" stroke-linecap="round"/>
<line x1="1268.4" y1="1041" x2="1267" y2="1023.9" stroke="#e6d2c8" stroke-width="3.2" stroke-linecap="round"/>
<line x1="1268.4" y1="1041" x2="1281.2" y2="1023.2" stroke="#b0968a" stroke-width="4.6" stroke-linecap="round"/>
<line x1="1268.4" y1="1041" x2="1281.2" y2="1023.2" stroke="#e6d2c8" stroke-width="3.2" stroke-linecap="round"/>
<line x1="1269.1" y1="1080.7" x2="1267" y2="1098.4" stroke="#b0968a" stroke-width="4.6" stroke-linecap="round"/>
<line x1="1269.1" y1="1080.7" x2="1267" y2="1098.4" stroke="#e6d2c8" stroke-width="3.2" stroke-linecap="round"/>
<line x1="1269.1" y1="1080.7" x2="1281.9" y2="1097.7" stroke="#b0968a" stroke-width="4.6" stroke-linecap="round"/>
<line x1="1269.1" y1="1080.7" x2="1281.9" y2="1097.7" stroke="#e6d2c8" stroke-width="3.2" stroke-linecap="round"/>
<circle cx="1267" cy="1023.9" r="5.5" fill="url(#gH)" stroke="#b9a3a3" stroke-width="0.8"/>
<circle cx="1281.2" cy="1023.2" r="5.5" fill="url(#gH)" stroke="#b9a3a3" stroke-width="0.8"/>
<circle cx="1267" cy="1098.4" r="5.5" fill="url(#gH)" stroke="#b9a3a3" stroke-width="0.8"/>
<circle cx="1281.9" cy="1097.7" r="5.5" fill="url(#gH)" stroke="#b9a3a3" stroke-width="0.8"/>
<circle cx="1268.4" cy="1041" r="9" fill="url(#gC)" stroke="#7a6050" stroke-width="0.8"/>
<circle cx="1269.1" cy="1080.7" r="9" fill="url(#gC)" stroke="#7a6050" stroke-width="0.8"/>
</svg>
</body></html>
